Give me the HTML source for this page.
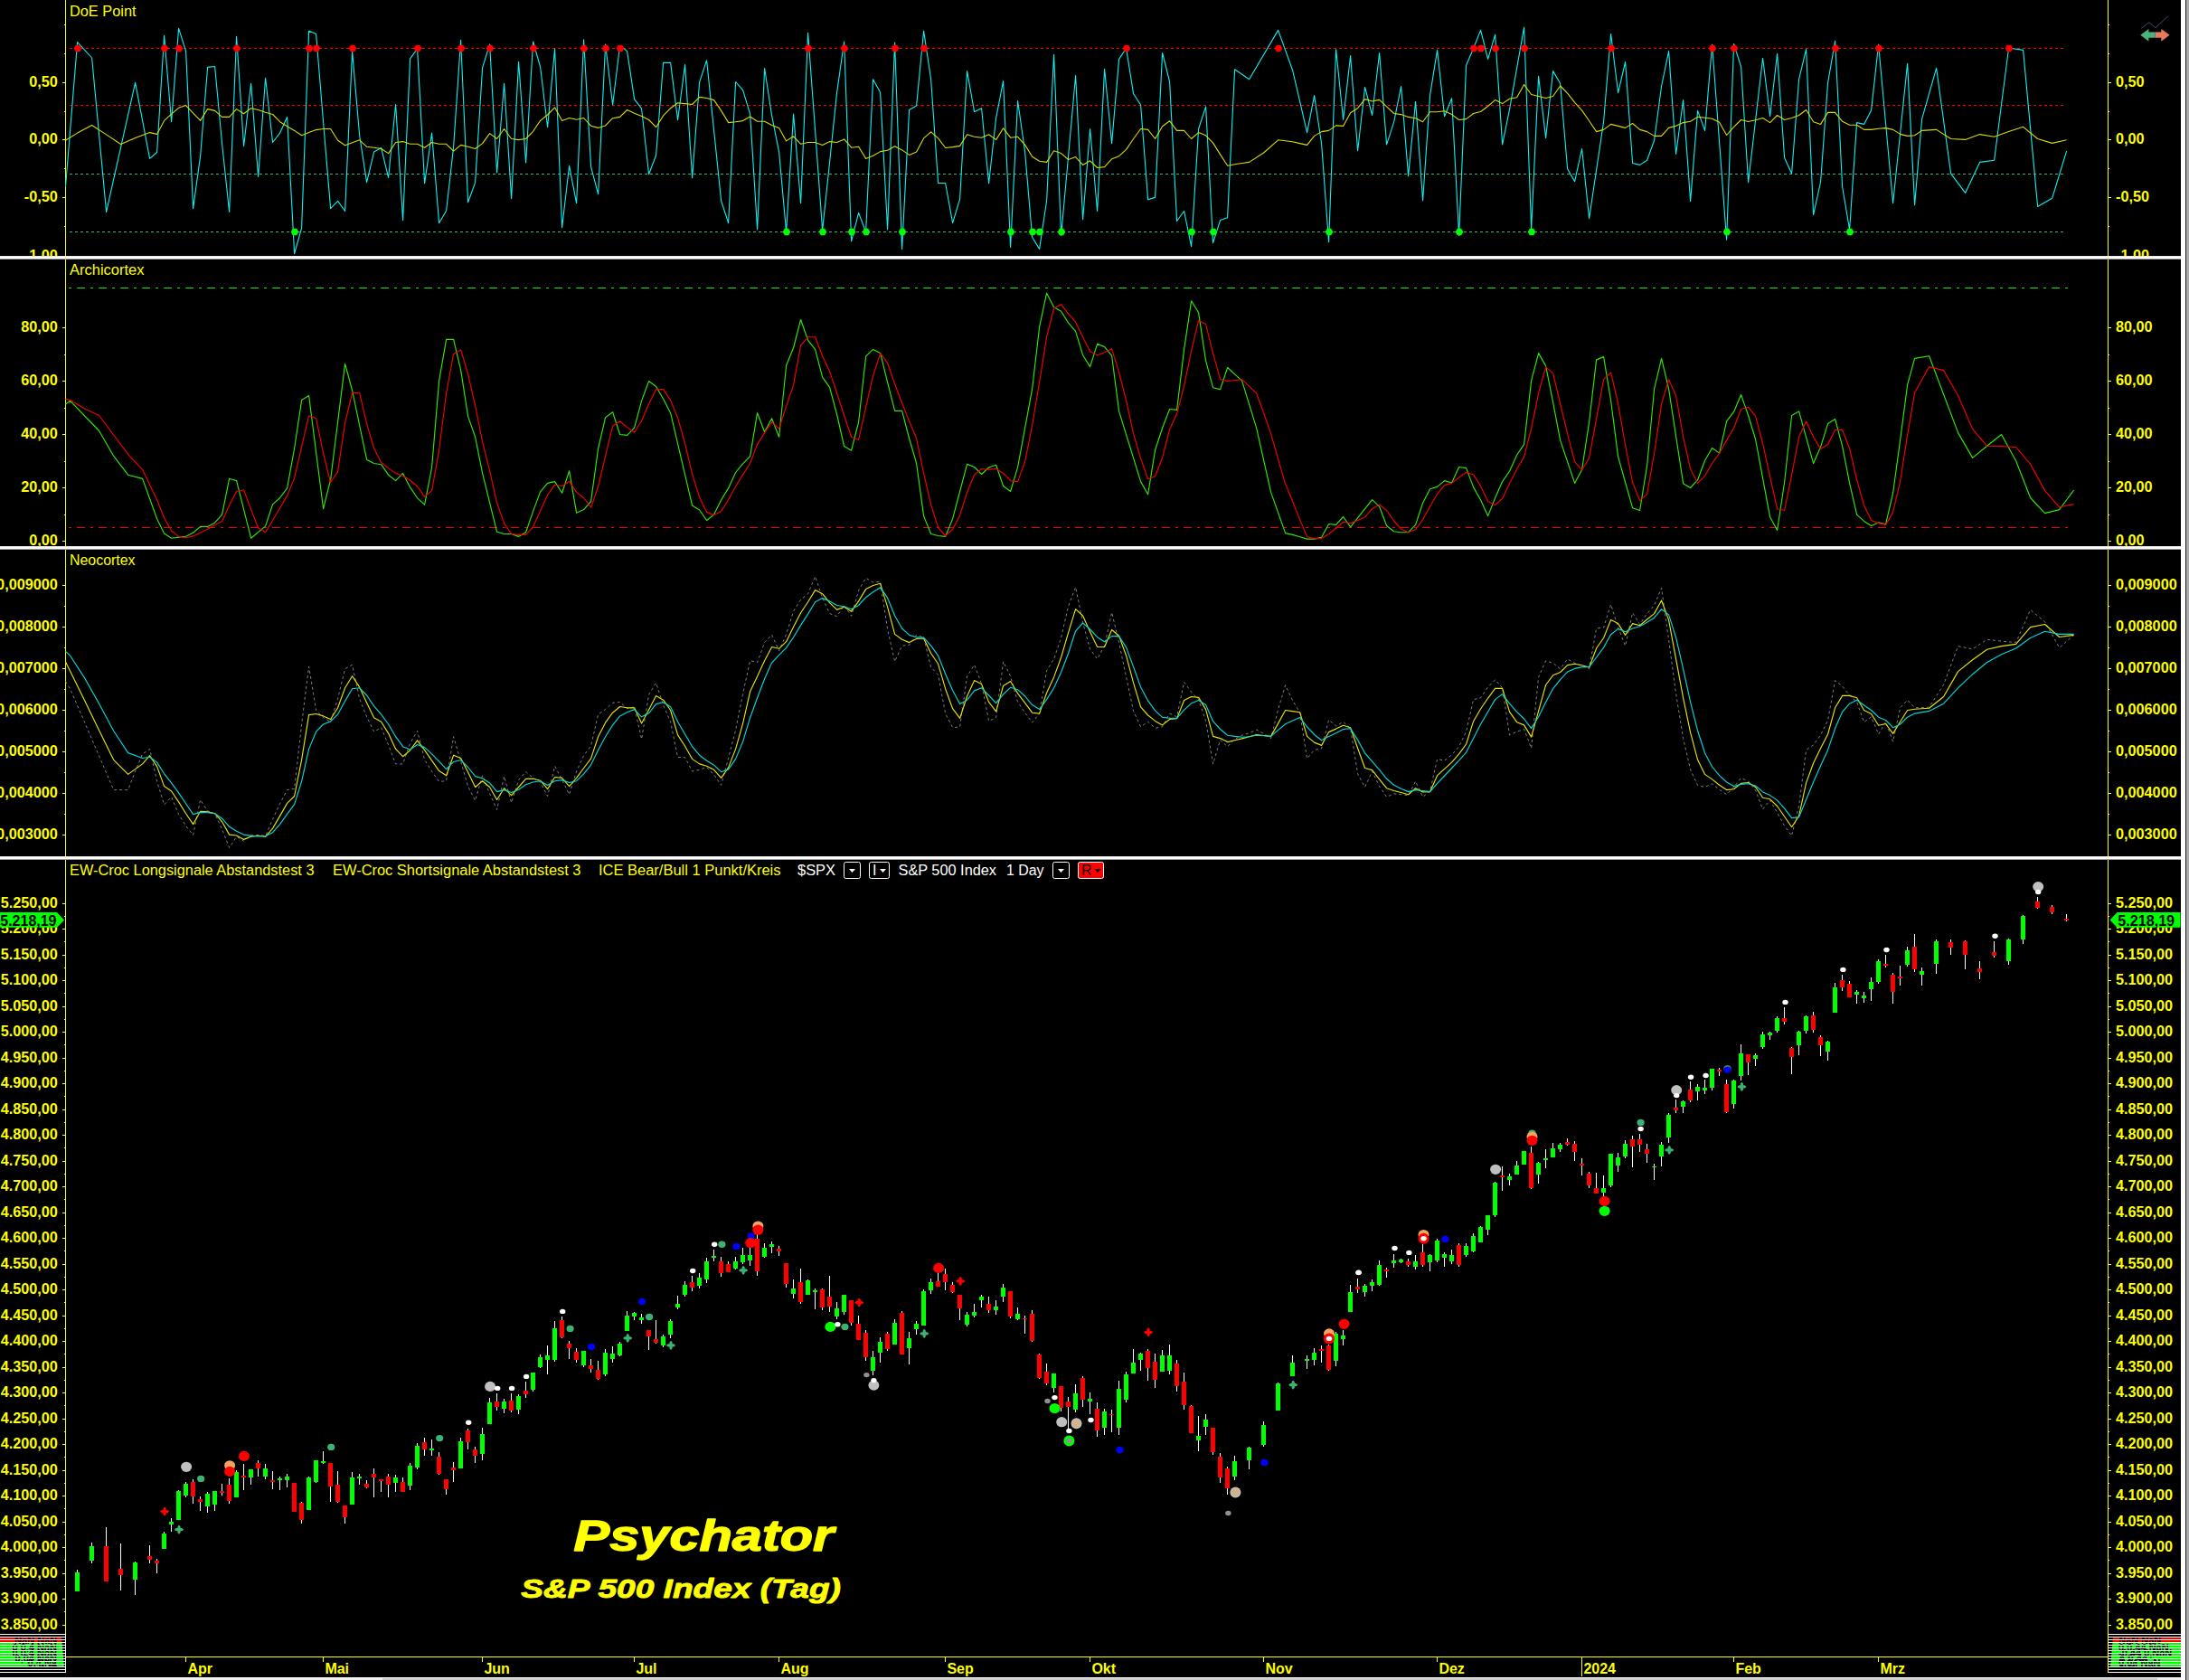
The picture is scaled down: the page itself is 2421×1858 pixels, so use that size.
<!DOCTYPE html><html><head><meta charset="utf-8"><title>Psychator S&amp;P 500 Index (Tag)</title><style>html,body{margin:0;padding:0;background:#000;overflow:hidden}body{width:2421px;height:1858px;position:relative}</style></head><body><svg width="2421" height="1858" viewBox="0 0 2421 1858" style="position:absolute;left:0;top:0">
<rect x="0" y="0" width="2421" height="1858" fill="#000"/>
<defs>
<clipPath id="c1"><rect x="0" y="0" width="2412" height="283"/></clipPath>
<clipPath id="c2"><rect x="0" y="287" width="2412" height="317"/></clipPath>
<clipPath id="c3"><rect x="0" y="608" width="2412" height="339"/></clipPath>
<clipPath id="c4"><rect x="0" y="951" width="2412" height="904"/></clipPath>
</defs>
<g clip-path="url(#c1)">
<g shape-rendering="crispEdges">
<rect x="72" y="0" width="1" height="283" fill="#ffff00"/><rect x="2331" y="0" width="1" height="283" fill="#ffff00"/>
<rect x="69" y="91" width="3" height="1" fill="#ffff00"/><rect x="2332" y="91" width="3" height="1" fill="#ffff00"/>
<rect x="69" y="154" width="3" height="1" fill="#ffff00"/><rect x="2332" y="154" width="3" height="1" fill="#ffff00"/>
<rect x="69" y="218" width="3" height="1" fill="#ffff00"/><rect x="2332" y="218" width="3" height="1" fill="#ffff00"/>
<rect x="69" y="283" width="3" height="1" fill="#ffff00"/><rect x="2332" y="283" width="3" height="1" fill="#ffff00"/>
<rect x="71" y="27" width="1" height="1" fill="#ffff00"/><rect x="2332" y="27" width="1" height="1" fill="#ffff00"/>
<rect x="71" y="59" width="1" height="1" fill="#ffff00"/><rect x="2332" y="59" width="1" height="1" fill="#ffff00"/>
<rect x="71" y="123" width="1" height="1" fill="#ffff00"/><rect x="2332" y="123" width="1" height="1" fill="#ffff00"/>
<rect x="71" y="186" width="1" height="1" fill="#ffff00"/><rect x="2332" y="186" width="1" height="1" fill="#ffff00"/>
<rect x="71" y="250" width="1" height="1" fill="#ffff00"/><rect x="2332" y="250" width="1" height="1" fill="#ffff00"/>
<line x1="77" y1="53.5" x2="2282" y2="53.5" stroke="#ff0000" stroke-width="1" stroke-dasharray="3 3"/>
<line x1="77" y1="116.5" x2="2282" y2="116.5" stroke="#ff0000" stroke-width="1" stroke-dasharray="3 3"/>
<line x1="77" y1="192.5" x2="2282" y2="192.5" stroke="#3cb371" stroke-width="1" stroke-dasharray="3 3"/>
<line x1="77" y1="256.5" x2="2282" y2="256.5" stroke="#3cb371" stroke-width="1" stroke-dasharray="3 3"/>
</g>
<text x="32.2" y="96.2" font-family="Liberation Sans, Arial, sans-serif" font-size="16" font-weight="bold" fill="#ffff00" textLength="31.6" lengthAdjust="spacingAndGlyphs">0,50</text>
<text x="2340" y="96.2" font-family="Liberation Sans, Arial, sans-serif" font-size="16" font-weight="bold" fill="#ffff00" textLength="31.6" lengthAdjust="spacingAndGlyphs">0,50</text>
<text x="32.2" y="159.2" font-family="Liberation Sans, Arial, sans-serif" font-size="16" font-weight="bold" fill="#ffff00" textLength="31.6" lengthAdjust="spacingAndGlyphs">0,00</text>
<text x="2340" y="159.2" font-family="Liberation Sans, Arial, sans-serif" font-size="16" font-weight="bold" fill="#ffff00" textLength="31.6" lengthAdjust="spacingAndGlyphs">0,00</text>
<text x="26.8" y="223.2" font-family="Liberation Sans, Arial, sans-serif" font-size="16" font-weight="bold" fill="#ffff00" textLength="37.0" lengthAdjust="spacingAndGlyphs">-0,50</text>
<text x="2340" y="223.2" font-family="Liberation Sans, Arial, sans-serif" font-size="16" font-weight="bold" fill="#ffff00" textLength="37.0" lengthAdjust="spacingAndGlyphs">-0,50</text>
<text x="26.8" y="288.2" font-family="Liberation Sans, Arial, sans-serif" font-size="16" font-weight="bold" fill="#ffff00" textLength="37.0" lengthAdjust="spacingAndGlyphs">-1,00</text>
<text x="2340" y="288.2" font-family="Liberation Sans, Arial, sans-serif" font-size="16" font-weight="bold" fill="#ffff00" textLength="37.0" lengthAdjust="spacingAndGlyphs">-1,00</text>
<text x="77" y="18.3" font-family="Liberation Sans, Arial, sans-serif" font-size="16" fill="#ffff00" textLength="73.5" lengthAdjust="spacingAndGlyphs">DoE Point</text>
<polyline points="72.5,206.5 85.6,46.6 101.6,64.0 117.6,234.4 149.6,91.4 165.6,175.4 173.6,168.5 181.6,39.3 189.6,134.7 197.6,31.4 205.6,56.6 213.6,230.6 221.6,172.7 229.6,74.4 237.6,73.5 245.6,159.0 253.6,234.4 261.6,40.2 269.6,161.7 277.6,92.3 285.6,195.5 293.6,86.2 301.6,157.5 309.6,147.1 317.6,129.4 325.6,280.5 333.6,252.2 341.6,34.2 349.6,37.5 357.6,135.2 365.6,230.6 373.6,222.4 381.6,233.5 389.6,56.6 397.6,149.5 405.6,201.6 413.6,168.1 421.6,163.5 429.6,196.4 437.6,115.5 445.6,243.6 453.6,64.9 461.6,53.9 469.6,202.8 477.6,147.1 485.6,246.7 493.6,233.0 501.6,162.6 509.6,44.2 517.6,223.8 525.6,201.9 533.6,74.9 541.6,49.0 549.6,191.0 557.6,92.3 565.6,219.8 573.6,68.2 581.6,180.0 589.6,46.0 597.6,74.0 605.6,140.7 613.6,53.9 621.6,251.8 629.6,183.3 637.6,224.8 645.6,43.9 653.6,184.6 661.6,214.7 669.6,49.0 677.6,116.0 685.6,50.3 693.6,56.6 701.6,109.6 709.6,120.2 717.6,192.8 725.6,171.8 733.6,69.4 741.6,69.4 749.6,132.8 757.6,71.6 765.6,196.8 773.6,90.8 781.6,66.7 789.6,144.4 797.6,222.0 805.6,246.7 813.6,90.5 821.6,99.6 829.6,126.1 837.6,253.6 845.6,75.5 853.6,127.9 861.6,168.1 869.6,256.6 877.6,126.1 885.6,224.8 893.6,36.2 901.6,144.4 909.6,254.9 917.6,179.1 925.6,102.3 933.6,46.0 941.6,266.8 949.6,235.4 957.6,256.6 965.6,87.7 973.6,102.3 981.6,253.6 989.6,47.1 997.6,275.6 1005.6,121.5 1013.6,116.9 1021.6,34.2 1029.6,87.7 1037.6,202.5 1045.6,202.5 1053.6,246.7 1061.6,220.2 1069.6,78.6 1077.6,123.7 1085.6,119.7 1093.6,202.8 1101.6,130.7 1109.6,89.5 1117.6,273.5 1125.6,111.5 1133.6,168.1 1141.6,262.2 1149.6,275.4 1157.6,222.0 1165.6,60.3 1173.6,260.4 1181.6,172.7 1189.6,83.5 1197.6,242.7 1205.6,142.5 1213.6,233.5 1221.6,76.4 1229.6,158.6 1237.6,65.4 1245.6,53.5 1253.6,103.8 1261.6,116.0 1269.6,220.7 1277.6,218.4 1285.6,58.5 1293.6,90.5 1301.6,244.5 1309.6,233.5 1317.6,272.6 1325.6,142.5 1333.6,117.9 1341.6,268.6 1349.6,243.6 1357.6,240.7 1365.6,76.7 1381.6,87.7 1413.6,33.4 1429.6,77.7 1445.6,146.6 1453.6,105.6 1461.6,159.0 1469.6,267.7 1477.6,54.5 1485.6,132.5 1493.6,61.6 1501.6,166.7 1509.6,96.5 1517.6,127.5 1525.6,58.5 1533.6,159.9 1541.6,135.2 1549.6,95.6 1557.6,194.6 1565.6,112.4 1573.6,221.7 1581.6,105.1 1589.6,55.4 1597.6,128.8 1605.6,108.7 1613.6,260.4 1621.6,72.2 1629.6,53.5 1637.6,33.4 1645.6,65.4 1653.6,38.4 1661.6,159.9 1669.6,120.6 1685.6,30.2 1693.6,253.1 1701.6,84.4 1709.6,152.6 1717.6,78.6 1725.6,92.3 1733.6,186.8 1741.6,200.6 1749.6,164.5 1757.6,241.6 1773.6,134.3 1781.6,37.5 1789.6,102.7 1797.6,68.5 1805.6,180.5 1813.6,182.4 1821.6,177.2 1829.6,155.3 1837.6,95.0 1845.6,56.6 1853.6,170.5 1861.6,110.6 1869.6,222.6 1877.6,122.4 1885.6,144.4 1893.6,49.3 1909.6,265.3 1917.6,48.4 1925.6,74.0 1933.6,201.6 1949.6,64.3 1957.6,128.8 1965.6,59.4 1973.6,174.5 1981.6,191.9 1989.6,87.7 1997.6,54.3 2005.6,237.6 2013.6,201.0 2021.6,91.4 2029.6,45.3 2037.6,206.5 2045.6,254.0 2053.6,135.6 2061.6,137.4 2069.6,122.1 2077.6,49.3 2093.6,224.8 2109.6,70.4 2117.6,226.6 2125.6,131.6 2141.6,75.3 2157.6,191.9 2173.6,213.4 2189.6,179.4 2205.6,177.2 2221.6,53.0 2237.6,55.4 2253.6,228.4 2269.6,219.3 2285.6,167.2" fill="none" stroke="#0cf0f0" stroke-width="1.1" stroke-linejoin="round" />
<polyline points="72.5,155.3 85.6,147.1 101.6,138.5 117.6,148.9 133.6,159.5 149.6,152.6 165.6,146.6 173.6,148.4 181.6,133.4 189.6,126.1 197.6,119.3 205.6,116.6 213.6,125.2 221.6,133.4 229.6,120.6 237.6,122.4 245.6,129.4 253.6,129.4 261.6,120.6 269.6,125.7 277.6,119.7 285.6,121.5 293.6,124.3 301.6,126.5 309.6,134.7 317.6,139.8 325.6,144.4 333.6,149.8 341.6,146.6 349.6,143.6 357.6,142.5 365.6,142.5 373.6,155.3 381.6,160.8 389.6,157.7 397.6,154.8 405.6,162.3 413.6,163.2 421.6,164.5 429.6,169.6 437.6,157.5 445.6,156.6 453.6,159.3 461.6,159.3 469.6,163.2 477.6,157.5 485.6,159.3 493.6,159.3 501.6,167.2 509.6,160.4 517.6,162.3 525.6,164.5 533.6,158.6 541.6,147.6 549.6,153.5 557.6,142.5 565.6,153.5 573.6,154.6 581.6,153.5 589.6,145.3 597.6,133.4 605.6,127.0 613.6,118.8 621.6,133.4 629.6,130.5 637.6,132.3 645.6,130.5 653.6,139.2 661.6,141.4 669.6,138.9 677.6,130.7 685.6,129.4 693.6,121.5 701.6,125.2 709.6,128.5 717.6,132.5 725.6,140.7 733.6,127.9 741.6,119.7 749.6,113.7 757.6,114.6 765.6,115.5 773.6,107.4 781.6,108.5 789.6,110.6 797.6,122.4 805.6,135.6 813.6,134.7 821.6,133.6 829.6,129.0 837.6,134.3 845.6,134.3 853.6,138.5 861.6,141.6 869.6,155.9 877.6,150.8 885.6,159.3 893.6,157.5 901.6,157.5 909.6,160.4 917.6,156.6 925.6,157.5 933.6,153.9 941.6,163.2 949.6,162.3 957.6,175.4 965.6,172.3 973.6,167.6 981.6,166.3 989.6,161.7 997.6,165.9 1005.6,171.4 1013.6,168.1 1021.6,152.9 1029.6,145.8 1037.6,152.9 1045.6,163.5 1053.6,162.6 1061.6,161.4 1069.6,148.7 1077.6,151.3 1085.6,152.2 1093.6,148.7 1101.6,154.6 1109.6,141.8 1117.6,152.2 1125.6,151.3 1133.6,160.1 1141.6,173.2 1149.6,178.3 1157.6,179.4 1165.6,166.7 1173.6,169.6 1181.6,176.5 1189.6,173.6 1197.6,182.4 1205.6,177.8 1213.6,185.5 1221.6,184.6 1229.6,175.8 1237.6,172.7 1245.6,165.4 1253.6,153.5 1261.6,142.5 1269.6,143.4 1277.6,153.5 1285.6,139.8 1293.6,133.8 1301.6,144.4 1309.6,144.4 1317.6,153.5 1325.6,146.6 1333.6,149.8 1341.6,158.1 1349.6,170.9 1357.6,183.3 1365.6,181.8 1373.6,180.5 1381.6,179.4 1397.6,169.0 1413.6,154.8 1421.6,155.7 1429.6,156.8 1437.6,158.6 1445.6,160.4 1453.6,150.4 1461.6,145.6 1469.6,144.4 1477.6,138.9 1485.6,139.4 1493.6,124.8 1501.6,119.7 1509.6,109.6 1517.6,112.0 1525.6,110.4 1533.6,117.9 1541.6,125.5 1549.6,126.6 1557.6,129.4 1565.6,130.7 1573.6,134.7 1581.6,123.7 1589.6,123.7 1597.6,122.8 1605.6,126.6 1613.6,132.5 1621.6,131.6 1629.6,125.5 1637.6,123.5 1645.6,117.5 1653.6,110.6 1661.6,114.6 1669.6,109.3 1677.6,107.8 1685.6,93.6 1693.6,104.5 1701.6,106.5 1709.6,108.5 1717.6,106.5 1725.6,95.0 1733.6,103.2 1741.6,113.3 1749.6,122.1 1757.6,133.8 1765.6,145.6 1773.6,143.4 1781.6,137.4 1789.6,139.4 1797.6,141.4 1805.6,136.5 1813.6,143.4 1821.6,145.6 1829.6,150.4 1837.6,150.4 1845.6,141.4 1853.6,139.2 1861.6,135.6 1869.6,134.3 1877.6,129.4 1885.6,130.3 1893.6,131.2 1901.6,135.2 1909.6,149.5 1917.6,140.3 1925.6,132.5 1933.6,134.5 1941.6,132.8 1949.6,130.5 1957.6,135.6 1965.6,127.5 1973.6,132.5 1981.6,130.5 1989.6,127.5 1997.6,121.5 2005.6,134.7 2013.6,137.4 2021.6,124.4 2029.6,124.4 2037.6,134.3 2045.6,138.3 2053.6,138.3 2061.6,143.4 2069.6,143.4 2077.6,142.2 2085.6,141.6 2093.6,143.4 2101.6,148.4 2109.6,150.4 2117.6,149.8 2125.6,144.4 2141.6,143.4 2157.6,153.5 2173.6,154.4 2189.6,148.6 2205.6,151.3 2221.6,145.6 2237.6,140.3 2253.6,153.5 2269.6,158.4 2285.6,154.8" fill="none" stroke="#d9d900" stroke-width="1.1" stroke-linejoin="round" />
<path transform="translate(86.0,53.5)" d="M-4.3,0 L-2.2,-3.7 L2.2,-3.7 L4.3,0 L2.2,3.7 L-2.2,3.7 Z" fill="#ff0000"/>
<path transform="translate(182.0,53.5)" d="M-4.3,0 L-2.2,-3.7 L2.2,-3.7 L4.3,0 L2.2,3.7 L-2.2,3.7 Z" fill="#ff0000"/>
<path transform="translate(198.0,53.5)" d="M-4.3,0 L-2.2,-3.7 L2.2,-3.7 L4.3,0 L2.2,3.7 L-2.2,3.7 Z" fill="#ff0000"/>
<path transform="translate(262.0,53.5)" d="M-4.3,0 L-2.2,-3.7 L2.2,-3.7 L4.3,0 L2.2,3.7 L-2.2,3.7 Z" fill="#ff0000"/>
<path transform="translate(342.0,53.5)" d="M-4.3,0 L-2.2,-3.7 L2.2,-3.7 L4.3,0 L2.2,3.7 L-2.2,3.7 Z" fill="#ff0000"/>
<path transform="translate(350.0,53.5)" d="M-4.3,0 L-2.2,-3.7 L2.2,-3.7 L4.3,0 L2.2,3.7 L-2.2,3.7 Z" fill="#ff0000"/>
<path transform="translate(390.0,53.5)" d="M-4.3,0 L-2.2,-3.7 L2.2,-3.7 L4.3,0 L2.2,3.7 L-2.2,3.7 Z" fill="#ff0000"/>
<path transform="translate(462.0,53.5)" d="M-4.3,0 L-2.2,-3.7 L2.2,-3.7 L4.3,0 L2.2,3.7 L-2.2,3.7 Z" fill="#ff0000"/>
<path transform="translate(510.0,53.5)" d="M-4.3,0 L-2.2,-3.7 L2.2,-3.7 L4.3,0 L2.2,3.7 L-2.2,3.7 Z" fill="#ff0000"/>
<path transform="translate(542.0,53.5)" d="M-4.3,0 L-2.2,-3.7 L2.2,-3.7 L4.3,0 L2.2,3.7 L-2.2,3.7 Z" fill="#ff0000"/>
<path transform="translate(590.0,53.5)" d="M-4.3,0 L-2.2,-3.7 L2.2,-3.7 L4.3,0 L2.2,3.7 L-2.2,3.7 Z" fill="#ff0000"/>
<path transform="translate(646.0,53.5)" d="M-4.3,0 L-2.2,-3.7 L2.2,-3.7 L4.3,0 L2.2,3.7 L-2.2,3.7 Z" fill="#ff0000"/>
<path transform="translate(670.0,53.5)" d="M-4.3,0 L-2.2,-3.7 L2.2,-3.7 L4.3,0 L2.2,3.7 L-2.2,3.7 Z" fill="#ff0000"/>
<path transform="translate(686.0,53.5)" d="M-4.3,0 L-2.2,-3.7 L2.2,-3.7 L4.3,0 L2.2,3.7 L-2.2,3.7 Z" fill="#ff0000"/>
<path transform="translate(894.0,53.5)" d="M-4.3,0 L-2.2,-3.7 L2.2,-3.7 L4.3,0 L2.2,3.7 L-2.2,3.7 Z" fill="#ff0000"/>
<path transform="translate(934.0,53.5)" d="M-4.3,0 L-2.2,-3.7 L2.2,-3.7 L4.3,0 L2.2,3.7 L-2.2,3.7 Z" fill="#ff0000"/>
<path transform="translate(990.0,53.5)" d="M-4.3,0 L-2.2,-3.7 L2.2,-3.7 L4.3,0 L2.2,3.7 L-2.2,3.7 Z" fill="#ff0000"/>
<path transform="translate(1022.0,53.5)" d="M-4.3,0 L-2.2,-3.7 L2.2,-3.7 L4.3,0 L2.2,3.7 L-2.2,3.7 Z" fill="#ff0000"/>
<path transform="translate(1246.0,53.5)" d="M-4.3,0 L-2.2,-3.7 L2.2,-3.7 L4.3,0 L2.2,3.7 L-2.2,3.7 Z" fill="#ff0000"/>
<path transform="translate(1414.0,53.5)" d="M-4.3,0 L-2.2,-3.7 L2.2,-3.7 L4.3,0 L2.2,3.7 L-2.2,3.7 Z" fill="#ff0000"/>
<path transform="translate(1630.0,53.5)" d="M-4.3,0 L-2.2,-3.7 L2.2,-3.7 L4.3,0 L2.2,3.7 L-2.2,3.7 Z" fill="#ff0000"/>
<path transform="translate(1638.0,53.5)" d="M-4.3,0 L-2.2,-3.7 L2.2,-3.7 L4.3,0 L2.2,3.7 L-2.2,3.7 Z" fill="#ff0000"/>
<path transform="translate(1654.0,53.5)" d="M-4.3,0 L-2.2,-3.7 L2.2,-3.7 L4.3,0 L2.2,3.7 L-2.2,3.7 Z" fill="#ff0000"/>
<path transform="translate(1686.0,53.5)" d="M-4.3,0 L-2.2,-3.7 L2.2,-3.7 L4.3,0 L2.2,3.7 L-2.2,3.7 Z" fill="#ff0000"/>
<path transform="translate(1782.0,53.5)" d="M-4.3,0 L-2.2,-3.7 L2.2,-3.7 L4.3,0 L2.2,3.7 L-2.2,3.7 Z" fill="#ff0000"/>
<path transform="translate(1894.0,53.5)" d="M-4.3,0 L-2.2,-3.7 L2.2,-3.7 L4.3,0 L2.2,3.7 L-2.2,3.7 Z" fill="#ff0000"/>
<path transform="translate(1918.0,53.5)" d="M-4.3,0 L-2.2,-3.7 L2.2,-3.7 L4.3,0 L2.2,3.7 L-2.2,3.7 Z" fill="#ff0000"/>
<path transform="translate(2030.0,53.5)" d="M-4.3,0 L-2.2,-3.7 L2.2,-3.7 L4.3,0 L2.2,3.7 L-2.2,3.7 Z" fill="#ff0000"/>
<path transform="translate(2078.0,53.5)" d="M-4.3,0 L-2.2,-3.7 L2.2,-3.7 L4.3,0 L2.2,3.7 L-2.2,3.7 Z" fill="#ff0000"/>
<path transform="translate(2222.0,53.5)" d="M-4.3,0 L-2.2,-3.7 L2.2,-3.7 L4.3,0 L2.2,3.7 L-2.2,3.7 Z" fill="#ff0000"/>
<path transform="translate(326.0,256.5)" d="M-4.3,0 L-2.2,-3.7 L2.2,-3.7 L4.3,0 L2.2,3.7 L-2.2,3.7 Z" fill="#00ff00"/>
<path transform="translate(870.0,256.5)" d="M-4.3,0 L-2.2,-3.7 L2.2,-3.7 L4.3,0 L2.2,3.7 L-2.2,3.7 Z" fill="#00ff00"/>
<path transform="translate(910.0,256.5)" d="M-4.3,0 L-2.2,-3.7 L2.2,-3.7 L4.3,0 L2.2,3.7 L-2.2,3.7 Z" fill="#00ff00"/>
<path transform="translate(942.0,256.5)" d="M-4.3,0 L-2.2,-3.7 L2.2,-3.7 L4.3,0 L2.2,3.7 L-2.2,3.7 Z" fill="#00ff00"/>
<path transform="translate(958.0,256.5)" d="M-4.3,0 L-2.2,-3.7 L2.2,-3.7 L4.3,0 L2.2,3.7 L-2.2,3.7 Z" fill="#00ff00"/>
<path transform="translate(998.0,256.5)" d="M-4.3,0 L-2.2,-3.7 L2.2,-3.7 L4.3,0 L2.2,3.7 L-2.2,3.7 Z" fill="#00ff00"/>
<path transform="translate(1118.0,256.5)" d="M-4.3,0 L-2.2,-3.7 L2.2,-3.7 L4.3,0 L2.2,3.7 L-2.2,3.7 Z" fill="#00ff00"/>
<path transform="translate(1142.0,256.5)" d="M-4.3,0 L-2.2,-3.7 L2.2,-3.7 L4.3,0 L2.2,3.7 L-2.2,3.7 Z" fill="#00ff00"/>
<path transform="translate(1150.0,256.5)" d="M-4.3,0 L-2.2,-3.7 L2.2,-3.7 L4.3,0 L2.2,3.7 L-2.2,3.7 Z" fill="#00ff00"/>
<path transform="translate(1174.0,256.5)" d="M-4.3,0 L-2.2,-3.7 L2.2,-3.7 L4.3,0 L2.2,3.7 L-2.2,3.7 Z" fill="#00ff00"/>
<path transform="translate(1318.0,256.5)" d="M-4.3,0 L-2.2,-3.7 L2.2,-3.7 L4.3,0 L2.2,3.7 L-2.2,3.7 Z" fill="#00ff00"/>
<path transform="translate(1342.0,256.5)" d="M-4.3,0 L-2.2,-3.7 L2.2,-3.7 L4.3,0 L2.2,3.7 L-2.2,3.7 Z" fill="#00ff00"/>
<path transform="translate(1470.0,256.5)" d="M-4.3,0 L-2.2,-3.7 L2.2,-3.7 L4.3,0 L2.2,3.7 L-2.2,3.7 Z" fill="#00ff00"/>
<path transform="translate(1614.0,256.5)" d="M-4.3,0 L-2.2,-3.7 L2.2,-3.7 L4.3,0 L2.2,3.7 L-2.2,3.7 Z" fill="#00ff00"/>
<path transform="translate(1694.0,256.5)" d="M-4.3,0 L-2.2,-3.7 L2.2,-3.7 L4.3,0 L2.2,3.7 L-2.2,3.7 Z" fill="#00ff00"/>
<path transform="translate(1910.0,256.5)" d="M-4.3,0 L-2.2,-3.7 L2.2,-3.7 L4.3,0 L2.2,3.7 L-2.2,3.7 Z" fill="#00ff00"/>
<path transform="translate(2046.0,256.5)" d="M-4.3,0 L-2.2,-3.7 L2.2,-3.7 L4.3,0 L2.2,3.7 L-2.2,3.7 Z" fill="#00ff00"/>
<polyline points="2368.2,31.4 2377,24.7 2383.7,30.7 2398.3,17.7" fill="none" stroke="#3c4a78" stroke-width="1"/>
<polygon points="2367.3,38.7 2376.4,32 2376.4,35.6 2383.7,35.6 2383.7,41.7 2376.4,41.7 2376.4,45.7" fill="#4cb27c"/>
<polygon points="2399.6,38.7 2390.3,32 2390.3,35.6 2383.7,35.6 2383.7,41.7 2390.3,41.7 2390.3,45.7" fill="#e87a5c"/>
</g>
<g clip-path="url(#c2)">
<g shape-rendering="crispEdges">
<rect x="72" y="287" width="1" height="317" fill="#ffff00"/><rect x="2331" y="287" width="1" height="317" fill="#ffff00"/>
<rect x="69" y="362" width="3" height="1" fill="#ffff00"/><rect x="2332" y="362" width="3" height="1" fill="#ffff00"/>
<rect x="69" y="421" width="3" height="1" fill="#ffff00"/><rect x="2332" y="421" width="3" height="1" fill="#ffff00"/>
<rect x="69" y="480" width="3" height="1" fill="#ffff00"/><rect x="2332" y="480" width="3" height="1" fill="#ffff00"/>
<rect x="69" y="539" width="3" height="1" fill="#ffff00"/><rect x="2332" y="539" width="3" height="1" fill="#ffff00"/>
<rect x="69" y="598" width="3" height="1" fill="#ffff00"/><rect x="2332" y="598" width="3" height="1" fill="#ffff00"/>
<rect x="71" y="392" width="1" height="1" fill="#ffff00"/><rect x="2332" y="392" width="1" height="1" fill="#ffff00"/>
<rect x="71" y="451" width="1" height="1" fill="#ffff00"/><rect x="2332" y="451" width="1" height="1" fill="#ffff00"/>
<rect x="71" y="510" width="1" height="1" fill="#ffff00"/><rect x="2332" y="510" width="1" height="1" fill="#ffff00"/>
<rect x="71" y="569" width="1" height="1" fill="#ffff00"/><rect x="2332" y="569" width="1" height="1" fill="#ffff00"/>
<line x1="76" y1="318.5" x2="2287" y2="318.5" stroke="#00e800" stroke-width="1" stroke-dasharray="3 6 9 6"/>
<line x1="76" y1="583.5" x2="2287" y2="583.5" stroke="#ff0000" stroke-width="1" stroke-dasharray="3 6 9 6"/>
</g>
<text x="23.2" y="367.2" font-family="Liberation Sans, Arial, sans-serif" font-size="16" font-weight="bold" fill="#ffff00" textLength="40.6" lengthAdjust="spacingAndGlyphs">80,00</text>
<text x="2340" y="367.2" font-family="Liberation Sans, Arial, sans-serif" font-size="16" font-weight="bold" fill="#ffff00" textLength="40.6" lengthAdjust="spacingAndGlyphs">80,00</text>
<text x="23.2" y="426.2" font-family="Liberation Sans, Arial, sans-serif" font-size="16" font-weight="bold" fill="#ffff00" textLength="40.6" lengthAdjust="spacingAndGlyphs">60,00</text>
<text x="2340" y="426.2" font-family="Liberation Sans, Arial, sans-serif" font-size="16" font-weight="bold" fill="#ffff00" textLength="40.6" lengthAdjust="spacingAndGlyphs">60,00</text>
<text x="23.2" y="485.2" font-family="Liberation Sans, Arial, sans-serif" font-size="16" font-weight="bold" fill="#ffff00" textLength="40.6" lengthAdjust="spacingAndGlyphs">40,00</text>
<text x="2340" y="485.2" font-family="Liberation Sans, Arial, sans-serif" font-size="16" font-weight="bold" fill="#ffff00" textLength="40.6" lengthAdjust="spacingAndGlyphs">40,00</text>
<text x="23.2" y="544.2" font-family="Liberation Sans, Arial, sans-serif" font-size="16" font-weight="bold" fill="#ffff00" textLength="40.6" lengthAdjust="spacingAndGlyphs">20,00</text>
<text x="2340" y="544.2" font-family="Liberation Sans, Arial, sans-serif" font-size="16" font-weight="bold" fill="#ffff00" textLength="40.6" lengthAdjust="spacingAndGlyphs">20,00</text>
<text x="32.2" y="603.2" font-family="Liberation Sans, Arial, sans-serif" font-size="16" font-weight="bold" fill="#ffff00" textLength="31.6" lengthAdjust="spacingAndGlyphs">0,00</text>
<text x="2340" y="603.2" font-family="Liberation Sans, Arial, sans-serif" font-size="16" font-weight="bold" fill="#ffff00" textLength="31.6" lengthAdjust="spacingAndGlyphs">0,00</text>
<text x="77" y="304.3" font-family="Liberation Sans, Arial, sans-serif" font-size="16" fill="#ffff00" textLength="82.5" lengthAdjust="spacingAndGlyphs">Archicortex</text>
<polyline points="72.5,447.0 77.6,443.4 109.6,476.5 125.6,504.2 141.6,525.2 157.6,529.4 173.6,573.7 181.6,590.1 189.6,595.2 197.6,594.1 205.6,593.2 213.6,589.2 221.6,582.4 229.6,582.4 237.6,578.2 245.6,569.1 253.6,529.4 261.6,531.6 277.6,595.2 293.6,581.9 301.6,557.8 309.6,550.5 317.6,539.9 325.6,496.0 333.6,442.6 341.6,437.5 357.6,562.7 365.6,530.7 381.6,402.4 389.6,432.0 405.6,508.4 413.6,512.5 421.6,513.7 429.6,525.2 437.6,531.6 445.6,523.4 453.6,538.9 461.6,550.8 469.6,558.1 477.6,517.0 485.6,421.1 493.6,375.4 501.6,375.4 509.6,409.2 517.6,460.4 525.6,483.2 533.6,523.4 549.6,588.3 557.6,590.5 565.6,590.5 573.6,593.4 581.6,588.7 589.6,565.4 597.6,543.9 605.6,534.4 613.6,532.6 621.6,545.3 629.6,520.7 637.6,567.3 645.6,563.6 653.6,554.5 661.6,496.0 669.6,461.7 677.6,455.8 685.6,480.5 693.6,481.4 701.6,473.2 709.6,443.4 717.6,421.5 725.6,427.5 733.6,441.2 741.6,456.7 765.6,559.0 773.6,564.0 781.6,575.5 789.6,569.1 797.6,553.0 805.6,539.9 813.6,522.5 821.6,512.8 829.6,504.6 837.6,456.7 845.6,477.7 853.6,462.7 861.6,483.2 869.6,404.3 877.6,384.5 885.6,353.5 893.6,376.3 901.6,386.4 909.6,417.1 917.6,428.4 925.6,458.5 933.6,493.6 941.6,498.2 949.6,466.8 957.6,394.2 965.6,386.4 973.6,390.4 981.6,422.9 989.6,454.3 997.6,454.3 1005.6,485.0 1013.6,512.5 1021.6,570.6 1029.6,590.5 1037.6,592.5 1045.6,593.4 1053.6,573.7 1061.6,543.5 1069.6,513.4 1077.6,516.5 1085.6,524.5 1093.6,517.0 1101.6,514.3 1109.6,537.5 1117.6,543.5 1125.6,516.7 1141.6,430.2 1149.6,361.7 1157.6,324.2 1165.6,339.8 1173.6,344.3 1181.6,357.1 1189.6,366.3 1197.6,392.8 1205.6,405.6 1213.6,380.3 1221.6,383.6 1229.6,393.3 1237.6,454.9 1261.6,532.6 1269.6,546.8 1277.6,497.8 1285.6,473.2 1293.6,452.5 1301.6,453.4 1309.6,386.4 1317.6,332.8 1325.6,345.8 1333.6,399.2 1341.6,428.8 1349.6,430.6 1357.6,406.5 1373.6,421.1 1389.6,473.2 1405.6,544.4 1421.6,589.6 1429.6,591.4 1437.6,593.8 1445.6,596.1 1453.6,596.1 1461.6,594.3 1469.6,579.5 1477.6,580.4 1485.6,571.5 1493.6,582.8 1517.6,552.7 1525.6,560.3 1533.6,581.5 1541.6,587.7 1549.6,588.7 1557.6,588.7 1565.6,580.4 1573.6,556.3 1581.6,540.8 1589.6,538.4 1597.6,531.6 1605.6,534.0 1613.6,516.5 1621.6,517.6 1629.6,538.9 1637.6,553.0 1645.6,570.6 1653.6,550.8 1661.6,532.6 1669.6,521.0 1677.6,503.3 1685.6,491.4 1693.6,421.1 1701.6,390.6 1709.6,404.6 1717.6,444.8 1725.6,486.9 1733.6,510.6 1741.6,534.4 1749.6,519.4 1757.6,466.8 1765.6,397.9 1773.6,394.6 1781.6,443.0 1789.6,505.1 1797.6,533.5 1805.6,561.8 1813.6,564.5 1821.6,515.2 1829.6,430.2 1837.6,396.4 1845.6,430.2 1861.6,534.7 1869.6,539.5 1877.6,530.7 1885.6,509.2 1893.6,495.5 1901.6,501.1 1909.6,465.9 1917.6,455.4 1925.6,436.6 1933.6,459.5 1941.6,486.0 1957.6,571.8 1965.6,586.5 1973.6,533.5 1981.6,459.5 1989.6,454.9 2005.6,512.5 2013.6,494.2 2021.6,468.6 2029.6,463.5 2037.6,493.3 2045.6,534.4 2053.6,569.1 2061.6,576.4 2069.6,581.5 2077.6,577.9 2085.6,579.7 2093.6,545.3 2101.6,486.9 2109.6,425.7 2117.6,396.4 2133.6,393.7 2165.6,478.6 2181.6,506.4 2197.6,493.3 2213.6,480.5 2229.6,509.7 2245.6,550.5 2261.6,567.6 2277.6,563.6 2293.6,542.1" fill="none" stroke="#30e800" stroke-width="1.15" stroke-linejoin="round" />
<polyline points="72.5,441.2 77.6,442.6 93.6,452.1 109.6,459.5 141.6,502.4 157.6,519.4 173.6,552.7 181.6,572.8 189.6,587.0 197.6,593.4 205.6,594.7 213.6,592.9 221.6,589.2 229.6,585.2 237.6,580.6 245.6,576.4 253.6,559.0 261.6,543.5 269.6,541.7 277.6,563.6 285.6,583.7 293.6,588.7 301.6,575.5 309.6,561.8 317.6,548.1 325.6,528.9 333.6,494.2 341.6,459.8 349.6,462.7 357.6,501.5 365.6,533.5 373.6,521.6 381.6,467.7 389.6,434.4 397.6,434.4 405.6,468.6 413.6,496.0 421.6,511.5 429.6,517.9 437.6,523.4 445.6,526.2 453.6,531.3 461.6,538.0 469.6,549.4 477.6,542.6 485.6,497.8 493.6,434.8 501.6,391.5 509.6,386.9 517.6,413.8 525.6,448.5 533.6,488.7 541.6,520.7 549.6,556.3 557.6,578.6 565.6,590.5 573.6,591.4 581.6,591.4 589.6,582.8 597.6,565.1 605.6,547.5 613.6,536.2 621.6,537.5 629.6,532.6 637.6,544.4 645.6,550.5 653.6,561.2 661.6,538.0 669.6,504.2 677.6,471.3 685.6,465.7 693.6,472.6 701.6,478.3 709.6,465.3 717.6,446.7 725.6,430.6 733.6,430.6 741.6,442.6 749.6,462.2 757.6,490.5 765.6,524.3 773.6,549.9 781.6,566.4 789.6,569.6 797.6,565.4 805.6,552.7 813.6,538.0 821.6,524.9 829.6,512.5 837.6,491.4 845.6,478.6 853.6,466.8 861.6,474.1 869.6,449.4 877.6,425.7 885.6,381.8 893.6,372.7 901.6,372.7 909.6,393.7 917.6,411.0 925.6,434.8 933.6,459.5 941.6,483.2 949.6,486.5 957.6,450.3 965.6,415.6 973.6,390.9 981.6,401.3 989.6,424.7 997.6,445.8 1005.6,465.9 1013.6,485.0 1021.6,523.4 1029.6,558.1 1037.6,583.7 1045.6,592.5 1053.6,585.5 1061.6,570.0 1069.6,544.4 1077.6,525.2 1085.6,518.5 1093.6,519.4 1101.6,518.3 1109.6,523.4 1117.6,531.6 1125.6,532.6 1133.6,510.6 1141.6,470.4 1149.6,422.9 1157.6,372.7 1165.6,341.0 1173.6,336.7 1181.6,347.1 1189.6,356.2 1197.6,372.7 1205.6,388.7 1213.6,392.8 1221.6,389.7 1229.6,385.8 1237.6,411.9 1245.6,443.0 1253.6,479.6 1261.6,507.0 1269.6,529.8 1277.6,526.7 1285.6,506.1 1293.6,475.0 1301.6,457.6 1309.6,426.6 1317.6,388.2 1325.6,354.4 1333.6,358.6 1341.6,390.9 1349.6,419.6 1357.6,421.5 1365.6,420.5 1373.6,419.6 1389.6,434.8 1397.6,456.7 1405.6,479.6 1413.6,507.9 1421.6,535.3 1429.6,554.5 1437.6,574.6 1445.6,593.8 1453.6,595.6 1461.6,595.6 1469.6,590.5 1477.6,584.3 1485.6,577.3 1493.6,578.6 1501.6,575.5 1509.6,571.8 1517.6,562.7 1525.6,558.1 1533.6,564.5 1541.6,576.0 1549.6,585.2 1557.6,588.7 1565.6,585.5 1573.6,574.6 1581.6,560.0 1589.6,546.3 1597.6,536.6 1605.6,534.4 1613.6,528.0 1621.6,522.5 1629.6,524.9 1637.6,537.7 1645.6,554.5 1653.6,558.5 1661.6,551.4 1669.6,534.4 1677.6,518.8 1685.6,505.1 1693.6,474.1 1701.6,434.8 1709.6,405.9 1717.6,412.9 1725.6,446.7 1733.6,479.6 1741.6,510.6 1749.6,519.8 1757.6,506.6 1765.6,463.1 1773.6,419.6 1781.6,411.9 1789.6,446.7 1797.6,492.4 1805.6,533.5 1813.6,553.6 1821.6,546.3 1829.6,501.5 1837.6,446.7 1845.6,419.8 1853.6,437.5 1861.6,483.2 1869.6,518.8 1877.6,534.4 1885.6,526.2 1893.6,512.5 1901.6,501.5 1909.6,486.9 1917.6,473.2 1925.6,452.5 1933.6,450.3 1941.6,460.4 1949.6,490.5 1957.6,527.1 1965.6,562.7 1973.6,564.5 1981.6,525.2 1989.6,483.2 1997.6,465.9 2005.6,483.2 2013.6,496.6 2021.6,491.4 2029.6,475.5 2037.6,475.5 2045.6,496.0 2053.6,530.7 2061.6,559.0 2069.6,575.5 2077.6,578.6 2085.6,580.4 2093.6,566.4 2101.6,532.6 2109.6,481.4 2117.6,434.2 2133.6,405.6 2149.6,409.6 2165.6,437.5 2181.6,474.4 2197.6,493.3 2213.6,493.6 2229.6,494.5 2245.6,513.4 2261.6,542.6 2277.6,560.9 2293.6,557.6" fill="none" stroke="#f40000" stroke-width="1.15" stroke-linejoin="round" />
</g>
<g clip-path="url(#c3)">
<g shape-rendering="crispEdges">
<rect x="72" y="608" width="1" height="339" fill="#ffff00"/><rect x="2331" y="608" width="1" height="339" fill="#ffff00"/>
<rect x="69" y="647" width="3" height="1" fill="#ffff00"/><rect x="2332" y="647" width="3" height="1" fill="#ffff00"/>
<rect x="69" y="693" width="3" height="1" fill="#ffff00"/><rect x="2332" y="693" width="3" height="1" fill="#ffff00"/>
<rect x="69" y="739" width="3" height="1" fill="#ffff00"/><rect x="2332" y="739" width="3" height="1" fill="#ffff00"/>
<rect x="69" y="785" width="3" height="1" fill="#ffff00"/><rect x="2332" y="785" width="3" height="1" fill="#ffff00"/>
<rect x="69" y="831" width="3" height="1" fill="#ffff00"/><rect x="2332" y="831" width="3" height="1" fill="#ffff00"/>
<rect x="69" y="877" width="3" height="1" fill="#ffff00"/><rect x="2332" y="877" width="3" height="1" fill="#ffff00"/>
<rect x="69" y="923" width="3" height="1" fill="#ffff00"/><rect x="2332" y="923" width="3" height="1" fill="#ffff00"/>
<rect x="71" y="670" width="1" height="1" fill="#ffff00"/><rect x="2332" y="670" width="1" height="1" fill="#ffff00"/>
<rect x="71" y="716" width="1" height="1" fill="#ffff00"/><rect x="2332" y="716" width="1" height="1" fill="#ffff00"/>
<rect x="71" y="762" width="1" height="1" fill="#ffff00"/><rect x="2332" y="762" width="1" height="1" fill="#ffff00"/>
<rect x="71" y="808" width="1" height="1" fill="#ffff00"/><rect x="2332" y="808" width="1" height="1" fill="#ffff00"/>
<rect x="71" y="854" width="1" height="1" fill="#ffff00"/><rect x="2332" y="854" width="1" height="1" fill="#ffff00"/>
<rect x="71" y="900" width="1" height="1" fill="#ffff00"/><rect x="2332" y="900" width="1" height="1" fill="#ffff00"/>
</g>
<text x="-3.9" y="652.2" font-family="Liberation Sans, Arial, sans-serif" font-size="16" font-weight="bold" fill="#ffff00" textLength="67.7" lengthAdjust="spacingAndGlyphs">0,009000</text>
<text x="2340" y="652.2" font-family="Liberation Sans, Arial, sans-serif" font-size="16" font-weight="bold" fill="#ffff00" textLength="67.7" lengthAdjust="spacingAndGlyphs">0,009000</text>
<text x="-3.9" y="698.2" font-family="Liberation Sans, Arial, sans-serif" font-size="16" font-weight="bold" fill="#ffff00" textLength="67.7" lengthAdjust="spacingAndGlyphs">0,008000</text>
<text x="2340" y="698.2" font-family="Liberation Sans, Arial, sans-serif" font-size="16" font-weight="bold" fill="#ffff00" textLength="67.7" lengthAdjust="spacingAndGlyphs">0,008000</text>
<text x="-3.9" y="744.2" font-family="Liberation Sans, Arial, sans-serif" font-size="16" font-weight="bold" fill="#ffff00" textLength="67.7" lengthAdjust="spacingAndGlyphs">0,007000</text>
<text x="2340" y="744.2" font-family="Liberation Sans, Arial, sans-serif" font-size="16" font-weight="bold" fill="#ffff00" textLength="67.7" lengthAdjust="spacingAndGlyphs">0,007000</text>
<text x="-3.9" y="790.2" font-family="Liberation Sans, Arial, sans-serif" font-size="16" font-weight="bold" fill="#ffff00" textLength="67.7" lengthAdjust="spacingAndGlyphs">0,006000</text>
<text x="2340" y="790.2" font-family="Liberation Sans, Arial, sans-serif" font-size="16" font-weight="bold" fill="#ffff00" textLength="67.7" lengthAdjust="spacingAndGlyphs">0,006000</text>
<text x="-3.9" y="836.2" font-family="Liberation Sans, Arial, sans-serif" font-size="16" font-weight="bold" fill="#ffff00" textLength="67.7" lengthAdjust="spacingAndGlyphs">0,005000</text>
<text x="2340" y="836.2" font-family="Liberation Sans, Arial, sans-serif" font-size="16" font-weight="bold" fill="#ffff00" textLength="67.7" lengthAdjust="spacingAndGlyphs">0,005000</text>
<text x="-3.9" y="882.2" font-family="Liberation Sans, Arial, sans-serif" font-size="16" font-weight="bold" fill="#ffff00" textLength="67.7" lengthAdjust="spacingAndGlyphs">0,004000</text>
<text x="2340" y="882.2" font-family="Liberation Sans, Arial, sans-serif" font-size="16" font-weight="bold" fill="#ffff00" textLength="67.7" lengthAdjust="spacingAndGlyphs">0,004000</text>
<text x="-3.9" y="928.2" font-family="Liberation Sans, Arial, sans-serif" font-size="16" font-weight="bold" fill="#ffff00" textLength="67.7" lengthAdjust="spacingAndGlyphs">0,003000</text>
<text x="2340" y="928.2" font-family="Liberation Sans, Arial, sans-serif" font-size="16" font-weight="bold" fill="#ffff00" textLength="67.7" lengthAdjust="spacingAndGlyphs">0,003000</text>
<text x="77" y="624.5" font-family="Liberation Sans, Arial, sans-serif" font-size="16" fill="#ffff00" textLength="72.5" lengthAdjust="spacingAndGlyphs">Neocortex</text>
<polyline points="72.5,753.5 77.6,761.9 93.6,798.8 109.6,836.1 125.6,873.6 141.6,873.6 149.6,853.1 157.6,833.9 165.6,828.4 173.6,864.1 181.6,890.0 189.6,881.4 197.6,900.6 205.6,913.4 213.6,923.5 221.6,884.5 229.6,897.0 237.6,899.7 245.6,917.1 253.6,937.5 261.6,925.3 269.6,930.2 277.6,923.8 285.6,923.5 293.6,924.4 301.6,906.1 309.6,888.7 317.6,873.6 325.6,872.3 333.6,801.0 341.6,737.1 349.6,785.5 357.6,793.7 365.6,798.3 373.6,772.7 381.6,739.8 389.6,735.2 397.6,772.7 405.6,792.8 413.6,809.2 421.6,804.7 429.6,823.9 437.6,844.9 445.6,844.9 453.6,822.0 461.6,808.3 469.6,840.3 477.6,853.1 485.6,864.4 493.6,863.7 501.6,814.7 509.6,842.1 517.6,869.6 525.6,885.4 533.6,857.7 541.6,877.8 549.6,895.5 557.6,858.6 565.6,887.8 573.6,862.6 581.6,853.5 589.6,860.4 597.6,865.0 605.6,880.5 613.6,847.3 621.6,862.2 629.6,878.7 637.6,853.1 645.6,835.7 653.6,824.8 661.6,790.1 669.6,784.6 677.6,777.3 685.6,776.4 693.6,783.7 701.6,781.8 709.6,817.5 717.6,768.1 725.6,755.3 733.6,780.0 741.6,798.3 749.6,837.6 757.6,837.6 765.6,853.1 773.6,851.3 781.6,848.5 789.6,856.8 797.6,868.3 805.6,838.5 813.6,807.4 821.6,767.2 829.6,730.7 837.6,732.5 845.6,710.6 853.6,702.0 861.6,719.7 869.6,701.4 877.6,675.9 885.6,663.1 893.6,656.7 901.6,637.5 909.6,661.2 917.6,678.6 925.6,681.7 933.6,669.5 941.6,681.3 949.6,653.0 957.6,639.3 965.6,643.9 973.6,643.3 981.6,696.0 989.6,731.6 997.6,714.2 1005.6,713.3 1013.6,702.4 1021.6,705.1 1029.6,738.0 1037.6,746.2 1045.6,789.1 1053.6,804.7 1061.6,803.8 1069.6,748.0 1077.6,735.2 1085.6,756.3 1093.6,797.4 1101.6,793.7 1109.6,731.6 1117.6,748.0 1125.6,776.4 1133.6,788.2 1141.6,799.2 1149.6,789.1 1157.6,741.6 1165.6,728.8 1173.6,705.1 1181.6,670.4 1189.6,649.4 1197.6,688.6 1205.6,717.9 1213.6,728.8 1221.6,714.2 1229.6,677.3 1237.6,710.6 1245.6,748.9 1253.6,786.4 1261.6,803.8 1269.6,798.3 1277.6,805.2 1285.6,803.8 1293.6,789.1 1301.6,792.8 1309.6,754.4 1317.6,765.4 1325.6,773.6 1333.6,797.4 1341.6,844.9 1349.6,818.4 1357.6,825.7 1365.6,817.5 1373.6,813.3 1381.6,810.7 1389.6,807.1 1397.6,811.4 1405.6,816.6 1413.6,784.6 1421.6,757.7 1429.6,774.5 1437.6,788.2 1445.6,838.9 1453.6,829.4 1461.6,827.9 1469.6,796.1 1477.6,802.9 1485.6,798.3 1493.6,805.6 1501.6,855.8 1509.6,870.5 1517.6,853.1 1525.6,869.6 1533.6,881.4 1541.6,877.8 1549.6,878.7 1557.6,879.6 1565.6,864.1 1573.6,881.4 1581.6,875.0 1589.6,839.4 1597.6,841.2 1605.6,834.8 1613.6,825.7 1621.6,809.2 1629.6,773.6 1637.6,771.8 1645.6,759.9 1653.6,751.7 1661.6,760.8 1669.6,812.9 1677.6,809.2 1685.6,806.5 1693.6,827.5 1701.6,748.9 1709.6,730.7 1717.6,733.4 1725.6,739.8 1733.6,728.8 1741.6,733.4 1749.6,736.2 1757.6,739.8 1765.6,695.0 1773.6,694.1 1781.6,668.5 1789.6,694.1 1797.6,714.2 1805.6,677.7 1813.6,690.5 1821.6,678.6 1829.6,669.5 1837.6,650.3 1845.6,707.8 1853.6,767.2 1861.6,816.6 1869.6,851.3 1877.6,868.6 1885.6,870.5 1893.6,866.8 1901.6,873.2 1909.6,878.7 1917.6,870.5 1925.6,860.4 1933.6,864.1 1941.6,874.1 1949.6,895.1 1957.6,885.1 1965.6,898.8 1973.6,913.4 1981.6,924.4 1989.6,891.5 1997.6,829.4 2005.6,823.9 2013.6,812.9 2021.6,796.5 2029.6,752.6 2037.6,759.0 2045.6,769.0 2053.6,776.4 2061.6,798.7 2069.6,792.8 2077.6,812.0 2085.6,798.3 2093.6,820.2 2101.6,782.8 2109.6,774.2 2117.6,782.8 2133.6,782.2 2149.6,757.2 2165.6,714.6 2181.6,717.9 2197.6,707.3 2213.6,709.1 2229.6,710.6 2245.6,674.4 2261.6,687.7 2277.6,716.4 2293.6,702.4" fill="none" stroke="#8c8c8c" stroke-width="0.9" stroke-linejoin="round" stroke-dasharray="3 3"/>
<polyline points="72.5,732.1 77.6,742.2 93.6,774.7 109.6,807.8 125.6,840.3 141.6,856.4 157.6,844.9 165.6,835.7 173.6,847.6 181.6,869.6 189.6,875.0 197.6,886.9 205.6,899.7 213.6,911.6 221.6,897.3 229.6,897.9 237.6,899.7 245.6,908.8 253.6,923.1 261.6,924.0 269.6,928.4 277.6,925.3 285.6,924.4 293.6,925.3 301.6,916.1 309.6,902.4 317.6,888.4 325.6,880.5 333.6,840.3 341.6,790.6 349.6,789.5 357.6,791.9 365.6,795.5 373.6,782.8 381.6,760.8 389.6,747.7 397.6,759.9 405.6,777.3 413.6,793.7 421.6,798.3 429.6,811.1 437.6,828.4 445.6,836.7 453.6,829.7 461.6,818.8 469.6,829.7 477.6,841.2 485.6,852.6 493.6,857.7 501.6,835.2 509.6,838.5 517.6,854.0 525.6,870.5 533.6,863.7 541.6,870.5 549.6,884.5 557.6,871.7 565.6,879.6 573.6,870.5 581.6,861.3 589.6,861.3 597.6,863.2 605.6,872.7 613.6,859.5 621.6,860.4 629.6,869.6 637.6,860.4 645.6,849.5 653.6,838.9 661.6,814.7 669.6,799.2 677.6,788.2 685.6,781.5 693.6,782.8 701.6,782.8 709.6,800.1 717.6,785.1 725.6,769.6 733.6,774.2 741.6,785.5 749.6,812.9 757.6,825.3 765.6,839.4 773.6,844.9 781.6,847.3 789.6,851.3 797.6,860.4 805.6,848.9 813.6,828.4 821.6,800.1 829.6,764.8 837.6,748.0 845.6,730.7 853.6,715.5 861.6,717.3 869.6,709.7 877.6,693.2 885.6,677.7 893.6,665.8 901.6,652.6 909.6,656.7 917.6,666.7 925.6,674.4 933.6,671.3 941.6,676.2 949.6,664.9 957.6,651.6 965.6,647.5 973.6,645.3 981.6,671.3 989.6,701.4 997.6,707.3 1005.6,710.6 1013.6,706.4 1021.6,706.0 1029.6,722.5 1037.6,734.3 1045.6,761.7 1053.6,783.7 1061.6,794.3 1069.6,770.0 1077.6,752.6 1085.6,756.6 1093.6,776.4 1101.6,786.8 1109.6,758.5 1117.6,753.5 1125.6,766.9 1133.6,777.3 1141.6,788.2 1149.6,789.1 1157.6,766.3 1165.6,748.9 1173.6,727.0 1181.6,699.6 1189.6,673.7 1197.6,681.0 1205.6,698.7 1213.6,715.5 1221.6,715.5 1229.6,696.5 1237.6,703.3 1245.6,725.2 1253.6,755.3 1261.6,781.8 1269.6,791.0 1277.6,797.4 1285.6,801.9 1293.6,795.5 1301.6,794.6 1309.6,774.5 1317.6,770.5 1325.6,771.4 1333.6,784.6 1341.6,814.4 1349.6,816.6 1357.6,820.6 1365.6,818.8 1373.6,816.9 1381.6,814.7 1389.6,812.5 1397.6,813.5 1405.6,814.4 1413.6,800.1 1421.6,785.5 1429.6,786.6 1437.6,787.7 1445.6,814.4 1453.6,821.1 1461.6,824.4 1469.6,809.6 1477.6,806.1 1485.6,802.3 1493.6,804.7 1501.6,827.5 1509.6,849.5 1517.6,851.6 1525.6,861.9 1533.6,871.7 1541.6,874.5 1549.6,876.5 1557.6,878.7 1565.6,871.7 1573.6,875.9 1581.6,875.6 1589.6,857.7 1597.6,850.4 1605.6,843.1 1613.6,833.9 1621.6,823.0 1629.6,797.7 1637.6,784.0 1645.6,772.3 1653.6,761.4 1661.6,761.4 1669.6,787.3 1677.6,798.7 1685.6,801.9 1693.6,815.1 1701.6,786.4 1709.6,757.5 1717.6,746.8 1725.6,743.5 1733.6,735.6 1741.6,734.3 1749.6,735.8 1757.6,738.0 1765.6,717.0 1773.6,705.5 1781.6,685.5 1789.6,689.6 1797.6,702.4 1805.6,689.6 1813.6,691.8 1821.6,685.0 1829.6,678.6 1837.6,664.0 1845.6,685.9 1853.6,728.8 1861.6,771.8 1869.6,810.2 1877.6,840.3 1885.6,856.4 1893.6,861.9 1901.6,868.3 1909.6,873.6 1917.6,872.7 1925.6,866.4 1933.6,865.5 1941.6,870.5 1949.6,882.3 1957.6,883.8 1965.6,891.5 1973.6,903.0 1981.6,914.7 1989.6,902.4 1997.6,865.9 2005.6,844.0 2013.6,827.5 2021.6,812.0 2029.6,782.8 2037.6,769.4 2045.6,769.4 2053.6,771.8 2061.6,785.5 2069.6,789.5 2077.6,802.3 2085.6,800.5 2093.6,811.4 2101.6,798.3 2109.6,785.5 2117.6,784.2 2133.6,783.3 2149.6,770.5 2165.6,742.6 2181.6,729.8 2197.6,718.2 2213.6,714.6 2229.6,712.4 2245.6,693.6 2261.6,690.5 2277.6,704.5 2293.6,702.4" fill="none" stroke="#e4e400" stroke-width="1.15" stroke-linejoin="round" />
<polyline points="72.5,720.3 77.6,725.2 93.6,749.9 109.6,778.2 125.6,808.3 141.6,832.6 157.6,838.5 165.6,837.2 173.6,843.1 181.6,855.8 189.6,865.9 197.6,876.9 205.6,888.7 213.6,900.6 221.6,898.4 229.6,898.8 237.6,899.7 245.6,905.2 253.6,914.3 261.6,919.3 269.6,923.1 277.6,924.4 285.6,924.7 293.6,924.7 301.6,920.7 309.6,911.6 317.6,900.3 325.6,889.7 333.6,864.1 341.6,828.4 349.6,809.2 357.6,801.0 365.6,797.9 373.6,790.1 381.6,775.4 389.6,761.7 397.6,760.8 405.6,769.0 413.6,780.9 421.6,790.1 429.6,801.0 437.6,814.7 445.6,825.7 453.6,829.0 461.6,823.5 469.6,826.6 477.6,833.9 485.6,842.1 493.6,850.7 501.6,842.5 509.6,840.7 517.6,848.5 525.6,858.6 533.6,860.8 541.6,865.9 549.6,875.6 557.6,873.6 565.6,876.5 573.6,873.2 581.6,867.7 589.6,865.0 597.6,863.7 605.6,868.6 613.6,863.7 621.6,862.6 629.6,865.5 637.6,863.7 645.6,855.8 653.6,845.8 661.6,829.4 669.6,814.7 677.6,801.9 685.6,791.9 693.6,787.7 701.6,784.6 709.6,792.8 717.6,788.8 725.6,778.6 733.6,776.7 741.6,781.8 749.6,798.3 757.6,812.0 765.6,825.7 773.6,835.2 781.6,841.2 789.6,846.2 797.6,853.7 805.6,850.9 813.6,839.4 821.6,820.2 829.6,793.7 837.6,771.8 845.6,750.8 853.6,733.1 861.6,724.3 869.6,716.4 877.6,704.7 885.6,691.4 893.6,679.1 901.6,665.8 909.6,661.6 917.6,664.9 925.6,669.5 933.6,670.7 941.6,673.7 949.6,669.5 957.6,660.7 965.6,654.8 973.6,649.7 981.6,661.2 989.6,681.0 997.6,695.0 1005.6,702.4 1013.6,704.7 1021.6,705.1 1029.6,714.2 1037.6,725.2 1045.6,745.3 1053.6,763.6 1061.6,778.6 1069.6,774.2 1077.6,763.9 1085.6,760.8 1093.6,769.0 1101.6,777.6 1109.6,767.8 1117.6,760.3 1125.6,762.7 1133.6,770.0 1141.6,779.6 1149.6,784.6 1157.6,773.6 1165.6,760.8 1173.6,743.5 1181.6,722.5 1189.6,697.8 1197.6,689.0 1205.6,696.0 1213.6,704.7 1221.6,709.7 1229.6,703.6 1237.6,703.6 1245.6,716.1 1253.6,737.6 1261.6,759.9 1269.6,774.9 1277.6,785.9 1285.6,793.4 1293.6,794.3 1301.6,794.3 1309.6,785.1 1317.6,777.8 1325.6,774.5 1333.6,779.6 1341.6,797.7 1349.6,806.5 1357.6,813.3 1365.6,814.4 1373.6,815.3 1381.6,814.7 1389.6,813.3 1397.6,813.8 1405.6,814.4 1413.6,807.4 1421.6,800.7 1429.6,797.0 1437.6,793.4 1445.6,803.8 1453.6,812.5 1461.6,818.8 1469.6,814.4 1477.6,810.7 1485.6,806.5 1493.6,805.6 1501.6,818.4 1509.6,833.0 1517.6,842.1 1525.6,851.3 1533.6,861.3 1541.6,868.3 1549.6,872.3 1557.6,875.6 1565.6,873.6 1573.6,874.5 1581.6,875.6 1589.6,866.4 1597.6,858.0 1605.6,849.5 1613.6,841.2 1621.6,832.1 1629.6,816.6 1637.6,801.0 1645.6,787.3 1653.6,773.6 1661.6,767.6 1669.6,778.2 1677.6,787.3 1685.6,795.0 1693.6,805.6 1701.6,792.8 1709.6,776.4 1717.6,761.7 1725.6,751.7 1733.6,743.1 1741.6,739.4 1749.6,737.6 1757.6,737.6 1765.6,727.0 1773.6,716.1 1781.6,701.8 1789.6,695.4 1797.6,698.7 1805.6,695.0 1813.6,692.7 1821.6,688.3 1829.6,683.2 1837.6,673.7 1845.6,679.9 1853.6,705.1 1861.6,739.8 1869.6,776.4 1877.6,808.3 1885.6,833.0 1893.6,848.0 1901.6,857.7 1909.6,865.0 1917.6,869.6 1925.6,867.4 1933.6,866.8 1941.6,869.0 1949.6,875.9 1957.6,879.6 1965.6,885.1 1973.6,894.2 1981.6,904.6 1989.6,903.7 1997.6,884.2 2005.6,865.0 2013.6,846.7 2021.6,829.4 2029.6,805.6 2037.6,787.3 2045.6,778.2 2053.6,774.2 2061.6,780.0 2069.6,785.5 2077.6,793.2 2085.6,796.5 2093.6,804.7 2101.6,801.0 2109.6,793.2 2117.6,789.1 2133.6,786.4 2149.6,778.2 2165.6,760.8 2181.6,745.7 2197.6,732.5 2213.6,723.7 2229.6,717.0 2245.6,705.5 2261.6,698.3 2277.6,701.4 2293.6,701.4" fill="none" stroke="#00d8d8" stroke-width="1.15" stroke-linejoin="round" />
</g>
<g clip-path="url(#c4)">
<g shape-rendering="crispEdges">
<rect x="72" y="951" width="1" height="882" fill="#ffff00"/><rect x="2331" y="951" width="1" height="882" fill="#ffff00"/>
<rect x="69" y="999" width="3" height="1" fill="#ffff00"/><rect x="2332" y="999" width="3" height="1" fill="#ffff00"/>
<rect x="69" y="1027" width="3" height="1" fill="#ffff00"/><rect x="2332" y="1027" width="3" height="1" fill="#ffff00"/>
<rect x="69" y="1056" width="3" height="1" fill="#ffff00"/><rect x="2332" y="1056" width="3" height="1" fill="#ffff00"/>
<rect x="69" y="1084" width="3" height="1" fill="#ffff00"/><rect x="2332" y="1084" width="3" height="1" fill="#ffff00"/>
<rect x="69" y="1113" width="3" height="1" fill="#ffff00"/><rect x="2332" y="1113" width="3" height="1" fill="#ffff00"/>
<rect x="69" y="1141" width="3" height="1" fill="#ffff00"/><rect x="2332" y="1141" width="3" height="1" fill="#ffff00"/>
<rect x="69" y="1170" width="3" height="1" fill="#ffff00"/><rect x="2332" y="1170" width="3" height="1" fill="#ffff00"/>
<rect x="69" y="1198" width="3" height="1" fill="#ffff00"/><rect x="2332" y="1198" width="3" height="1" fill="#ffff00"/>
<rect x="69" y="1227" width="3" height="1" fill="#ffff00"/><rect x="2332" y="1227" width="3" height="1" fill="#ffff00"/>
<rect x="69" y="1255" width="3" height="1" fill="#ffff00"/><rect x="2332" y="1255" width="3" height="1" fill="#ffff00"/>
<rect x="69" y="1284" width="3" height="1" fill="#ffff00"/><rect x="2332" y="1284" width="3" height="1" fill="#ffff00"/>
<rect x="69" y="1312" width="3" height="1" fill="#ffff00"/><rect x="2332" y="1312" width="3" height="1" fill="#ffff00"/>
<rect x="69" y="1341" width="3" height="1" fill="#ffff00"/><rect x="2332" y="1341" width="3" height="1" fill="#ffff00"/>
<rect x="69" y="1369" width="3" height="1" fill="#ffff00"/><rect x="2332" y="1369" width="3" height="1" fill="#ffff00"/>
<rect x="69" y="1398" width="3" height="1" fill="#ffff00"/><rect x="2332" y="1398" width="3" height="1" fill="#ffff00"/>
<rect x="69" y="1426" width="3" height="1" fill="#ffff00"/><rect x="2332" y="1426" width="3" height="1" fill="#ffff00"/>
<rect x="69" y="1455" width="3" height="1" fill="#ffff00"/><rect x="2332" y="1455" width="3" height="1" fill="#ffff00"/>
<rect x="69" y="1483" width="3" height="1" fill="#ffff00"/><rect x="2332" y="1483" width="3" height="1" fill="#ffff00"/>
<rect x="69" y="1512" width="3" height="1" fill="#ffff00"/><rect x="2332" y="1512" width="3" height="1" fill="#ffff00"/>
<rect x="69" y="1540" width="3" height="1" fill="#ffff00"/><rect x="2332" y="1540" width="3" height="1" fill="#ffff00"/>
<rect x="69" y="1569" width="3" height="1" fill="#ffff00"/><rect x="2332" y="1569" width="3" height="1" fill="#ffff00"/>
<rect x="69" y="1597" width="3" height="1" fill="#ffff00"/><rect x="2332" y="1597" width="3" height="1" fill="#ffff00"/>
<rect x="69" y="1626" width="3" height="1" fill="#ffff00"/><rect x="2332" y="1626" width="3" height="1" fill="#ffff00"/>
<rect x="69" y="1654" width="3" height="1" fill="#ffff00"/><rect x="2332" y="1654" width="3" height="1" fill="#ffff00"/>
<rect x="69" y="1683" width="3" height="1" fill="#ffff00"/><rect x="2332" y="1683" width="3" height="1" fill="#ffff00"/>
<rect x="69" y="1711" width="3" height="1" fill="#ffff00"/><rect x="2332" y="1711" width="3" height="1" fill="#ffff00"/>
<rect x="69" y="1740" width="3" height="1" fill="#ffff00"/><rect x="2332" y="1740" width="3" height="1" fill="#ffff00"/>
<rect x="69" y="1768" width="3" height="1" fill="#ffff00"/><rect x="2332" y="1768" width="3" height="1" fill="#ffff00"/>
<rect x="69" y="1797" width="3" height="1" fill="#ffff00"/><rect x="2332" y="1797" width="3" height="1" fill="#ffff00"/>
<rect x="71" y="1013" width="1" height="1" fill="#ffff00"/><rect x="2332" y="1013" width="1" height="1" fill="#ffff00"/>
<rect x="71" y="1041" width="1" height="1" fill="#ffff00"/><rect x="2332" y="1041" width="1" height="1" fill="#ffff00"/>
<rect x="71" y="1070" width="1" height="1" fill="#ffff00"/><rect x="2332" y="1070" width="1" height="1" fill="#ffff00"/>
<rect x="71" y="1098" width="1" height="1" fill="#ffff00"/><rect x="2332" y="1098" width="1" height="1" fill="#ffff00"/>
<rect x="71" y="1127" width="1" height="1" fill="#ffff00"/><rect x="2332" y="1127" width="1" height="1" fill="#ffff00"/>
<rect x="71" y="1155" width="1" height="1" fill="#ffff00"/><rect x="2332" y="1155" width="1" height="1" fill="#ffff00"/>
<rect x="71" y="1184" width="1" height="1" fill="#ffff00"/><rect x="2332" y="1184" width="1" height="1" fill="#ffff00"/>
<rect x="71" y="1212" width="1" height="1" fill="#ffff00"/><rect x="2332" y="1212" width="1" height="1" fill="#ffff00"/>
<rect x="71" y="1241" width="1" height="1" fill="#ffff00"/><rect x="2332" y="1241" width="1" height="1" fill="#ffff00"/>
<rect x="71" y="1269" width="1" height="1" fill="#ffff00"/><rect x="2332" y="1269" width="1" height="1" fill="#ffff00"/>
<rect x="71" y="1298" width="1" height="1" fill="#ffff00"/><rect x="2332" y="1298" width="1" height="1" fill="#ffff00"/>
<rect x="71" y="1326" width="1" height="1" fill="#ffff00"/><rect x="2332" y="1326" width="1" height="1" fill="#ffff00"/>
<rect x="71" y="1355" width="1" height="1" fill="#ffff00"/><rect x="2332" y="1355" width="1" height="1" fill="#ffff00"/>
<rect x="71" y="1383" width="1" height="1" fill="#ffff00"/><rect x="2332" y="1383" width="1" height="1" fill="#ffff00"/>
<rect x="71" y="1412" width="1" height="1" fill="#ffff00"/><rect x="2332" y="1412" width="1" height="1" fill="#ffff00"/>
<rect x="71" y="1440" width="1" height="1" fill="#ffff00"/><rect x="2332" y="1440" width="1" height="1" fill="#ffff00"/>
<rect x="71" y="1469" width="1" height="1" fill="#ffff00"/><rect x="2332" y="1469" width="1" height="1" fill="#ffff00"/>
<rect x="71" y="1497" width="1" height="1" fill="#ffff00"/><rect x="2332" y="1497" width="1" height="1" fill="#ffff00"/>
<rect x="71" y="1526" width="1" height="1" fill="#ffff00"/><rect x="2332" y="1526" width="1" height="1" fill="#ffff00"/>
<rect x="71" y="1554" width="1" height="1" fill="#ffff00"/><rect x="2332" y="1554" width="1" height="1" fill="#ffff00"/>
<rect x="71" y="1583" width="1" height="1" fill="#ffff00"/><rect x="2332" y="1583" width="1" height="1" fill="#ffff00"/>
<rect x="71" y="1611" width="1" height="1" fill="#ffff00"/><rect x="2332" y="1611" width="1" height="1" fill="#ffff00"/>
<rect x="71" y="1640" width="1" height="1" fill="#ffff00"/><rect x="2332" y="1640" width="1" height="1" fill="#ffff00"/>
<rect x="71" y="1668" width="1" height="1" fill="#ffff00"/><rect x="2332" y="1668" width="1" height="1" fill="#ffff00"/>
<rect x="71" y="1697" width="1" height="1" fill="#ffff00"/><rect x="2332" y="1697" width="1" height="1" fill="#ffff00"/>
<rect x="71" y="1725" width="1" height="1" fill="#ffff00"/><rect x="2332" y="1725" width="1" height="1" fill="#ffff00"/>
<rect x="71" y="1754" width="1" height="1" fill="#ffff00"/><rect x="2332" y="1754" width="1" height="1" fill="#ffff00"/>
<rect x="71" y="1782" width="1" height="1" fill="#ffff00"/><rect x="2332" y="1782" width="1" height="1" fill="#ffff00"/>
<rect x="72" y="1832" width="2260" height="1" fill="#ffff00"/>
<rect x="205" y="1832" width="1" height="6" fill="#ffff00"/>
<rect x="357" y="1832" width="1" height="6" fill="#ffff00"/>
<rect x="533" y="1832" width="1" height="6" fill="#ffff00"/>
<rect x="701" y="1832" width="1" height="6" fill="#ffff00"/>
<rect x="861" y="1832" width="1" height="6" fill="#ffff00"/>
<rect x="1045" y="1832" width="1" height="6" fill="#ffff00"/>
<rect x="1205" y="1832" width="1" height="6" fill="#ffff00"/>
<rect x="1397" y="1832" width="1" height="6" fill="#ffff00"/>
<rect x="1589" y="1832" width="1" height="6" fill="#ffff00"/>
<rect x="1749" y="1832" width="1" height="22" fill="#ffff00"/>
<rect x="1917" y="1832" width="1" height="6" fill="#ffff00"/>
<rect x="2077" y="1832" width="1" height="6" fill="#ffff00"/>
</g>
<text x="207.4" y="1851" font-family="Liberation Sans, Arial, sans-serif" font-size="16" font-weight="bold" fill="#ffff00">Apr</text>
<text x="359.4" y="1851" font-family="Liberation Sans, Arial, sans-serif" font-size="16" font-weight="bold" fill="#ffff00">Mai</text>
<text x="535.4" y="1851" font-family="Liberation Sans, Arial, sans-serif" font-size="16" font-weight="bold" fill="#ffff00">Jun</text>
<text x="703.4" y="1851" font-family="Liberation Sans, Arial, sans-serif" font-size="16" font-weight="bold" fill="#ffff00">Jul</text>
<text x="863.4" y="1851" font-family="Liberation Sans, Arial, sans-serif" font-size="16" font-weight="bold" fill="#ffff00">Aug</text>
<text x="1047.4" y="1851" font-family="Liberation Sans, Arial, sans-serif" font-size="16" font-weight="bold" fill="#ffff00">Sep</text>
<text x="1207.4" y="1851" font-family="Liberation Sans, Arial, sans-serif" font-size="16" font-weight="bold" fill="#ffff00">Okt</text>
<text x="1399.4" y="1851" font-family="Liberation Sans, Arial, sans-serif" font-size="16" font-weight="bold" fill="#ffff00">Nov</text>
<text x="1591.4" y="1851" font-family="Liberation Sans, Arial, sans-serif" font-size="16" font-weight="bold" fill="#ffff00">Dez</text>
<text x="1751.4" y="1851" font-family="Liberation Sans, Arial, sans-serif" font-size="16" font-weight="bold" fill="#ffff00">2024</text>
<text x="1919.4" y="1851" font-family="Liberation Sans, Arial, sans-serif" font-size="16" font-weight="bold" fill="#ffff00">Feb</text>
<text x="2079.4" y="1851" font-family="Liberation Sans, Arial, sans-serif" font-size="16" font-weight="bold" fill="#ffff00">Mrz</text>
<text x="0.7" y="1004.2" font-family="Liberation Sans, Arial, sans-serif" font-size="16" font-weight="bold" fill="#ffff00" textLength="63.1" lengthAdjust="spacingAndGlyphs">5.250,00</text>
<text x="2340" y="1004.2" font-family="Liberation Sans, Arial, sans-serif" font-size="16" font-weight="bold" fill="#ffff00" textLength="63.1" lengthAdjust="spacingAndGlyphs">5.250,00</text>
<text x="0.7" y="1032.2" font-family="Liberation Sans, Arial, sans-serif" font-size="16" font-weight="bold" fill="#ffff00" textLength="63.1" lengthAdjust="spacingAndGlyphs">5.200,00</text>
<text x="2340" y="1032.2" font-family="Liberation Sans, Arial, sans-serif" font-size="16" font-weight="bold" fill="#ffff00" textLength="63.1" lengthAdjust="spacingAndGlyphs">5.200,00</text>
<text x="0.7" y="1061.2" font-family="Liberation Sans, Arial, sans-serif" font-size="16" font-weight="bold" fill="#ffff00" textLength="63.1" lengthAdjust="spacingAndGlyphs">5.150,00</text>
<text x="2340" y="1061.2" font-family="Liberation Sans, Arial, sans-serif" font-size="16" font-weight="bold" fill="#ffff00" textLength="63.1" lengthAdjust="spacingAndGlyphs">5.150,00</text>
<text x="0.7" y="1089.2" font-family="Liberation Sans, Arial, sans-serif" font-size="16" font-weight="bold" fill="#ffff00" textLength="63.1" lengthAdjust="spacingAndGlyphs">5.100,00</text>
<text x="2340" y="1089.2" font-family="Liberation Sans, Arial, sans-serif" font-size="16" font-weight="bold" fill="#ffff00" textLength="63.1" lengthAdjust="spacingAndGlyphs">5.100,00</text>
<text x="0.7" y="1118.2" font-family="Liberation Sans, Arial, sans-serif" font-size="16" font-weight="bold" fill="#ffff00" textLength="63.1" lengthAdjust="spacingAndGlyphs">5.050,00</text>
<text x="2340" y="1118.2" font-family="Liberation Sans, Arial, sans-serif" font-size="16" font-weight="bold" fill="#ffff00" textLength="63.1" lengthAdjust="spacingAndGlyphs">5.050,00</text>
<text x="0.7" y="1146.2" font-family="Liberation Sans, Arial, sans-serif" font-size="16" font-weight="bold" fill="#ffff00" textLength="63.1" lengthAdjust="spacingAndGlyphs">5.000,00</text>
<text x="2340" y="1146.2" font-family="Liberation Sans, Arial, sans-serif" font-size="16" font-weight="bold" fill="#ffff00" textLength="63.1" lengthAdjust="spacingAndGlyphs">5.000,00</text>
<text x="0.7" y="1175.2" font-family="Liberation Sans, Arial, sans-serif" font-size="16" font-weight="bold" fill="#ffff00" textLength="63.1" lengthAdjust="spacingAndGlyphs">4.950,00</text>
<text x="2340" y="1175.2" font-family="Liberation Sans, Arial, sans-serif" font-size="16" font-weight="bold" fill="#ffff00" textLength="63.1" lengthAdjust="spacingAndGlyphs">4.950,00</text>
<text x="0.7" y="1203.2" font-family="Liberation Sans, Arial, sans-serif" font-size="16" font-weight="bold" fill="#ffff00" textLength="63.1" lengthAdjust="spacingAndGlyphs">4.900,00</text>
<text x="2340" y="1203.2" font-family="Liberation Sans, Arial, sans-serif" font-size="16" font-weight="bold" fill="#ffff00" textLength="63.1" lengthAdjust="spacingAndGlyphs">4.900,00</text>
<text x="0.7" y="1232.2" font-family="Liberation Sans, Arial, sans-serif" font-size="16" font-weight="bold" fill="#ffff00" textLength="63.1" lengthAdjust="spacingAndGlyphs">4.850,00</text>
<text x="2340" y="1232.2" font-family="Liberation Sans, Arial, sans-serif" font-size="16" font-weight="bold" fill="#ffff00" textLength="63.1" lengthAdjust="spacingAndGlyphs">4.850,00</text>
<text x="0.7" y="1260.2" font-family="Liberation Sans, Arial, sans-serif" font-size="16" font-weight="bold" fill="#ffff00" textLength="63.1" lengthAdjust="spacingAndGlyphs">4.800,00</text>
<text x="2340" y="1260.2" font-family="Liberation Sans, Arial, sans-serif" font-size="16" font-weight="bold" fill="#ffff00" textLength="63.1" lengthAdjust="spacingAndGlyphs">4.800,00</text>
<text x="0.7" y="1289.2" font-family="Liberation Sans, Arial, sans-serif" font-size="16" font-weight="bold" fill="#ffff00" textLength="63.1" lengthAdjust="spacingAndGlyphs">4.750,00</text>
<text x="2340" y="1289.2" font-family="Liberation Sans, Arial, sans-serif" font-size="16" font-weight="bold" fill="#ffff00" textLength="63.1" lengthAdjust="spacingAndGlyphs">4.750,00</text>
<text x="0.7" y="1317.2" font-family="Liberation Sans, Arial, sans-serif" font-size="16" font-weight="bold" fill="#ffff00" textLength="63.1" lengthAdjust="spacingAndGlyphs">4.700,00</text>
<text x="2340" y="1317.2" font-family="Liberation Sans, Arial, sans-serif" font-size="16" font-weight="bold" fill="#ffff00" textLength="63.1" lengthAdjust="spacingAndGlyphs">4.700,00</text>
<text x="0.7" y="1346.2" font-family="Liberation Sans, Arial, sans-serif" font-size="16" font-weight="bold" fill="#ffff00" textLength="63.1" lengthAdjust="spacingAndGlyphs">4.650,00</text>
<text x="2340" y="1346.2" font-family="Liberation Sans, Arial, sans-serif" font-size="16" font-weight="bold" fill="#ffff00" textLength="63.1" lengthAdjust="spacingAndGlyphs">4.650,00</text>
<text x="0.7" y="1374.2" font-family="Liberation Sans, Arial, sans-serif" font-size="16" font-weight="bold" fill="#ffff00" textLength="63.1" lengthAdjust="spacingAndGlyphs">4.600,00</text>
<text x="2340" y="1374.2" font-family="Liberation Sans, Arial, sans-serif" font-size="16" font-weight="bold" fill="#ffff00" textLength="63.1" lengthAdjust="spacingAndGlyphs">4.600,00</text>
<text x="0.7" y="1403.2" font-family="Liberation Sans, Arial, sans-serif" font-size="16" font-weight="bold" fill="#ffff00" textLength="63.1" lengthAdjust="spacingAndGlyphs">4.550,00</text>
<text x="2340" y="1403.2" font-family="Liberation Sans, Arial, sans-serif" font-size="16" font-weight="bold" fill="#ffff00" textLength="63.1" lengthAdjust="spacingAndGlyphs">4.550,00</text>
<text x="0.7" y="1431.2" font-family="Liberation Sans, Arial, sans-serif" font-size="16" font-weight="bold" fill="#ffff00" textLength="63.1" lengthAdjust="spacingAndGlyphs">4.500,00</text>
<text x="2340" y="1431.2" font-family="Liberation Sans, Arial, sans-serif" font-size="16" font-weight="bold" fill="#ffff00" textLength="63.1" lengthAdjust="spacingAndGlyphs">4.500,00</text>
<text x="0.7" y="1460.2" font-family="Liberation Sans, Arial, sans-serif" font-size="16" font-weight="bold" fill="#ffff00" textLength="63.1" lengthAdjust="spacingAndGlyphs">4.450,00</text>
<text x="2340" y="1460.2" font-family="Liberation Sans, Arial, sans-serif" font-size="16" font-weight="bold" fill="#ffff00" textLength="63.1" lengthAdjust="spacingAndGlyphs">4.450,00</text>
<text x="0.7" y="1488.2" font-family="Liberation Sans, Arial, sans-serif" font-size="16" font-weight="bold" fill="#ffff00" textLength="63.1" lengthAdjust="spacingAndGlyphs">4.400,00</text>
<text x="2340" y="1488.2" font-family="Liberation Sans, Arial, sans-serif" font-size="16" font-weight="bold" fill="#ffff00" textLength="63.1" lengthAdjust="spacingAndGlyphs">4.400,00</text>
<text x="0.7" y="1517.2" font-family="Liberation Sans, Arial, sans-serif" font-size="16" font-weight="bold" fill="#ffff00" textLength="63.1" lengthAdjust="spacingAndGlyphs">4.350,00</text>
<text x="2340" y="1517.2" font-family="Liberation Sans, Arial, sans-serif" font-size="16" font-weight="bold" fill="#ffff00" textLength="63.1" lengthAdjust="spacingAndGlyphs">4.350,00</text>
<text x="0.7" y="1545.2" font-family="Liberation Sans, Arial, sans-serif" font-size="16" font-weight="bold" fill="#ffff00" textLength="63.1" lengthAdjust="spacingAndGlyphs">4.300,00</text>
<text x="2340" y="1545.2" font-family="Liberation Sans, Arial, sans-serif" font-size="16" font-weight="bold" fill="#ffff00" textLength="63.1" lengthAdjust="spacingAndGlyphs">4.300,00</text>
<text x="0.7" y="1574.2" font-family="Liberation Sans, Arial, sans-serif" font-size="16" font-weight="bold" fill="#ffff00" textLength="63.1" lengthAdjust="spacingAndGlyphs">4.250,00</text>
<text x="2340" y="1574.2" font-family="Liberation Sans, Arial, sans-serif" font-size="16" font-weight="bold" fill="#ffff00" textLength="63.1" lengthAdjust="spacingAndGlyphs">4.250,00</text>
<text x="0.7" y="1602.2" font-family="Liberation Sans, Arial, sans-serif" font-size="16" font-weight="bold" fill="#ffff00" textLength="63.1" lengthAdjust="spacingAndGlyphs">4.200,00</text>
<text x="2340" y="1602.2" font-family="Liberation Sans, Arial, sans-serif" font-size="16" font-weight="bold" fill="#ffff00" textLength="63.1" lengthAdjust="spacingAndGlyphs">4.200,00</text>
<text x="0.7" y="1631.2" font-family="Liberation Sans, Arial, sans-serif" font-size="16" font-weight="bold" fill="#ffff00" textLength="63.1" lengthAdjust="spacingAndGlyphs">4.150,00</text>
<text x="2340" y="1631.2" font-family="Liberation Sans, Arial, sans-serif" font-size="16" font-weight="bold" fill="#ffff00" textLength="63.1" lengthAdjust="spacingAndGlyphs">4.150,00</text>
<text x="0.7" y="1659.2" font-family="Liberation Sans, Arial, sans-serif" font-size="16" font-weight="bold" fill="#ffff00" textLength="63.1" lengthAdjust="spacingAndGlyphs">4.100,00</text>
<text x="2340" y="1659.2" font-family="Liberation Sans, Arial, sans-serif" font-size="16" font-weight="bold" fill="#ffff00" textLength="63.1" lengthAdjust="spacingAndGlyphs">4.100,00</text>
<text x="0.7" y="1688.2" font-family="Liberation Sans, Arial, sans-serif" font-size="16" font-weight="bold" fill="#ffff00" textLength="63.1" lengthAdjust="spacingAndGlyphs">4.050,00</text>
<text x="2340" y="1688.2" font-family="Liberation Sans, Arial, sans-serif" font-size="16" font-weight="bold" fill="#ffff00" textLength="63.1" lengthAdjust="spacingAndGlyphs">4.050,00</text>
<text x="0.7" y="1716.2" font-family="Liberation Sans, Arial, sans-serif" font-size="16" font-weight="bold" fill="#ffff00" textLength="63.1" lengthAdjust="spacingAndGlyphs">4.000,00</text>
<text x="2340" y="1716.2" font-family="Liberation Sans, Arial, sans-serif" font-size="16" font-weight="bold" fill="#ffff00" textLength="63.1" lengthAdjust="spacingAndGlyphs">4.000,00</text>
<text x="0.7" y="1745.2" font-family="Liberation Sans, Arial, sans-serif" font-size="16" font-weight="bold" fill="#ffff00" textLength="63.1" lengthAdjust="spacingAndGlyphs">3.950,00</text>
<text x="2340" y="1745.2" font-family="Liberation Sans, Arial, sans-serif" font-size="16" font-weight="bold" fill="#ffff00" textLength="63.1" lengthAdjust="spacingAndGlyphs">3.950,00</text>
<text x="0.7" y="1773.2" font-family="Liberation Sans, Arial, sans-serif" font-size="16" font-weight="bold" fill="#ffff00" textLength="63.1" lengthAdjust="spacingAndGlyphs">3.900,00</text>
<text x="2340" y="1773.2" font-family="Liberation Sans, Arial, sans-serif" font-size="16" font-weight="bold" fill="#ffff00" textLength="63.1" lengthAdjust="spacingAndGlyphs">3.900,00</text>
<text x="0.7" y="1802.2" font-family="Liberation Sans, Arial, sans-serif" font-size="16" font-weight="bold" fill="#ffff00" textLength="63.1" lengthAdjust="spacingAndGlyphs">3.850,00</text>
<text x="2340" y="1802.2" font-family="Liberation Sans, Arial, sans-serif" font-size="16" font-weight="bold" fill="#ffff00" textLength="63.1" lengthAdjust="spacingAndGlyphs">3.850,00</text>
<polygon points="0,1009 63,1009 71,1017.5 63,1025.8 0,1025.8" fill="#00ff00"/>
<text x="0.3" y="1024.3" font-family="Liberation Sans, Arial, sans-serif" font-size="16" font-weight="bold" fill="#000" textLength="62.2" lengthAdjust="spacingAndGlyphs">5.218,19</text>
<polygon points="2411.5,1009 2341.5,1009 2333.5,1017.5 2341.5,1025.8 2411.5,1025.8" fill="#00ff00"/>
<text x="2342.3" y="1024.3" font-family="Liberation Sans, Arial, sans-serif" font-size="16" font-weight="bold" fill="#000" textLength="62.8" lengthAdjust="spacingAndGlyphs">5.218,19</text>
<text x="77" y="968" font-family="Liberation Sans, Arial, sans-serif" font-size="16" fill="#ffff00" textLength="270.5" lengthAdjust="spacingAndGlyphs">EW-Croc Longsignale Abstandstest 3</text>
<text x="368" y="968" font-family="Liberation Sans, Arial, sans-serif" font-size="16" fill="#ffff00" textLength="274.5" lengthAdjust="spacingAndGlyphs">EW-Croc Shortsignale Abstandstest 3</text>
<text x="662" y="968" font-family="Liberation Sans, Arial, sans-serif" font-size="16" fill="#ffff00" textLength="201.5" lengthAdjust="spacingAndGlyphs">ICE Bear/Bull 1 Punkt/Kreis</text>
<text x="882" y="968" font-family="Liberation Sans, Arial, sans-serif" font-size="16" fill="#fff" textLength="42" lengthAdjust="spacingAndGlyphs">$SPX</text>
<text x="993.5" y="968" font-family="Liberation Sans, Arial, sans-serif" font-size="16" fill="#fff" textLength="108.5" lengthAdjust="spacingAndGlyphs">S&amp;P 500 Index</text>
<text x="1113" y="968" font-family="Liberation Sans, Arial, sans-serif" font-size="16" fill="#fff" textLength="41.5" lengthAdjust="spacingAndGlyphs">1 Day</text>
<rect x="933.5" y="953.5" width="18.0" height="18" rx="2" fill="none" stroke="#fff" stroke-width="1"/>
<polygon points="939.0,961.0 946.0,961.0 942.5,965.0" fill="#fff"/>
<rect x="961.5" y="953.5" width="22.0" height="18" rx="2" fill="none" stroke="#fff" stroke-width="1"/>
<text x="965" y="968" font-family="Liberation Sans, Arial, sans-serif" font-size="16" fill="#fff">I</text>
<polygon points="973.0,961.0 980.0,961.0 976.5,965.0" fill="#fff"/>
<rect x="1164.5" y="953.5" width="18.0" height="18" rx="2" fill="none" stroke="#fff" stroke-width="1"/>
<polygon points="1170.0,961.0 1177.0,961.0 1173.5,965.0" fill="#fff"/>
<rect x="1192.5" y="953.5" width="28.0" height="18" rx="2" fill="#ff0000" stroke="#fff" stroke-width="1"/>
<text x="1196" y="968" font-family="Liberation Sans, Arial, sans-serif" font-size="16" fill="#000">R</text>
<polygon points="1210.5,961.0 1217.5,961.0 1214.0,965.0" fill="#000"/>
<g shape-rendering="crispEdges">
<rect x="0" y="1807" width="73" height="43" fill="#000"/>
<rect x="0" y="1808" width="73" height="2" fill="#000"/>
<rect x="0" y="1811" width="73" height="2" fill="#ff0000"/>
<rect x="0" y="1814" width="73" height="2" fill="#ff0000"/>
<rect x="0" y="1817" width="73" height="2" fill="#00ff00"/>
<rect x="0" y="1820" width="73" height="2" fill="#00ff00"/>
<rect x="0" y="1823" width="73" height="2" fill="#00ff00"/>
<rect x="0" y="1826" width="73" height="2" fill="#00ff00"/>
<rect x="0" y="1829" width="73" height="2" fill="#00ff00"/>
<rect x="0" y="1832" width="73" height="2" fill="#00ff00"/>
<rect x="0" y="1835" width="73" height="2" fill="#00ff00"/>
<rect x="0" y="1838" width="73" height="2" fill="#00ff00"/>
<rect x="0" y="1841" width="73" height="2" fill="#00ff00"/>
<rect x="0" y="1844" width="73" height="2" fill="#000"/>
<rect x="0" y="1847" width="73" height="2" fill="#000"/>
</g>
<polygon points="72,1810 68,1810 71,1844 72,1844" fill="#000"/>
<text x="63" y="1817.5" text-anchor="end" font-family="Liberation Sans, Arial, sans-serif" font-size="11" font-weight="bold" fill="#000">NaN NaN</text>
<text x="63" y="1826.0" text-anchor="end" font-family="Liberation Sans, Arial, sans-serif" font-size="11" font-weight="bold" fill="#000">0 0,4 NaN</text>
<text x="63" y="1832.0" text-anchor="end" font-family="Liberation Sans, Arial, sans-serif" font-size="11" font-weight="bold" fill="#000">0  0,4 NaN</text>
<text x="63" y="1838.0" text-anchor="end" font-family="Liberation Sans, Arial, sans-serif" font-size="11" font-weight="bold" fill="#000">0,04 NaN</text>
<text x="63" y="1843.0" text-anchor="end" font-family="Liberation Sans, Arial, sans-serif" font-size="11" font-weight="bold" fill="#000">0,4 Na</text>
<text x="63" y="1848.5" text-anchor="end" font-family="Liberation Sans, Arial, sans-serif" font-size="11" font-weight="bold" fill="#000">A /1</text>
<g shape-rendering="crispEdges">
<rect x="0" y="1807" width="73" height="1" fill="#fff"/>
<rect x="0" y="1810" width="73" height="1" fill="#fff"/>
<rect x="0" y="1813" width="73" height="1" fill="#fff"/>
<rect x="0" y="1816" width="73" height="1" fill="#fff"/>
<rect x="0" y="1819" width="73" height="1" fill="#fff"/>
<rect x="0" y="1822" width="73" height="1" fill="#fff"/>
<rect x="0" y="1825" width="73" height="1" fill="#fff"/>
<rect x="0" y="1828" width="73" height="1" fill="#fff"/>
<rect x="0" y="1831" width="73" height="1" fill="#fff"/>
<rect x="0" y="1834" width="73" height="1" fill="#fff"/>
<rect x="0" y="1837" width="73" height="1" fill="#fff"/>
<rect x="0" y="1840" width="73" height="1" fill="#fff"/>
<rect x="0" y="1843" width="73" height="1" fill="#fff"/>
<rect x="0" y="1846" width="73" height="1" fill="#fff"/>
<rect x="0" y="1849" width="73" height="1" fill="#fff"/>
<rect x="0" y="1808" width="73" height="2" fill="#000"/><rect x="0" y="1844" width="73" height="2" fill="#000"/><rect x="0" y="1847" width="73" height="2" fill="#000"/>
</g>
<g shape-rendering="crispEdges">
<rect x="2332" y="1807" width="80" height="43" fill="#000"/>
<rect x="2332" y="1808" width="80" height="2" fill="#000"/>
<rect x="2332" y="1811" width="80" height="2" fill="#ff0000"/>
<rect x="2332" y="1814" width="80" height="2" fill="#ff0000"/>
<rect x="2332" y="1817" width="80" height="2" fill="#00ff00"/>
<rect x="2332" y="1820" width="80" height="2" fill="#00ff00"/>
<rect x="2332" y="1823" width="80" height="2" fill="#00ff00"/>
<rect x="2332" y="1826" width="80" height="2" fill="#00ff00"/>
<rect x="2332" y="1829" width="80" height="2" fill="#00ff00"/>
<rect x="2332" y="1832" width="80" height="2" fill="#00ff00"/>
<rect x="2332" y="1835" width="80" height="2" fill="#00ff00"/>
<rect x="2332" y="1838" width="80" height="2" fill="#00ff00"/>
<rect x="2332" y="1841" width="80" height="2" fill="#00ff00"/>
<rect x="2332" y="1844" width="80" height="2" fill="#000"/>
<rect x="2332" y="1847" width="80" height="2" fill="#000"/>
</g>
<polygon points="2332,1810 2337,1810 2334,1844 2332,1844" fill="#000"/>
<text x="2343" y="1817.5" font-family="Liberation Sans, Arial, sans-serif" font-size="11" font-weight="bold" fill="#000">NaN NaN</text>
<text x="2343" y="1826.0" font-family="Liberation Sans, Arial, sans-serif" font-size="11" font-weight="bold" fill="#000">0 0,44  NaN</text>
<text x="2343" y="1832.0" font-family="Liberation Sans, Arial, sans-serif" font-size="11" font-weight="bold" fill="#000">-0,44 0,NaN</text>
<text x="2343" y="1838.0" font-family="Liberation Sans, Arial, sans-serif" font-size="11" font-weight="bold" fill="#000">A 0,44</text>
<text x="2343" y="1843.0" font-family="Liberation Sans, Arial, sans-serif" font-size="11" font-weight="bold" fill="#000">0,04  NaN</text>
<text x="2343" y="1848.5" font-family="Liberation Sans, Arial, sans-serif" font-size="11" font-weight="bold" fill="#000">A  /1</text>
<g shape-rendering="crispEdges">
<rect x="2332" y="1807" width="80" height="1" fill="#fff"/>
<rect x="2332" y="1810" width="80" height="1" fill="#fff"/>
<rect x="2332" y="1813" width="80" height="1" fill="#fff"/>
<rect x="2332" y="1816" width="80" height="1" fill="#fff"/>
<rect x="2332" y="1819" width="80" height="1" fill="#fff"/>
<rect x="2332" y="1822" width="80" height="1" fill="#fff"/>
<rect x="2332" y="1825" width="80" height="1" fill="#fff"/>
<rect x="2332" y="1828" width="80" height="1" fill="#fff"/>
<rect x="2332" y="1831" width="80" height="1" fill="#fff"/>
<rect x="2332" y="1834" width="80" height="1" fill="#fff"/>
<rect x="2332" y="1837" width="80" height="1" fill="#fff"/>
<rect x="2332" y="1840" width="80" height="1" fill="#fff"/>
<rect x="2332" y="1843" width="80" height="1" fill="#fff"/>
<rect x="2332" y="1846" width="80" height="1" fill="#fff"/>
<rect x="2332" y="1849" width="80" height="1" fill="#fff"/>
<rect x="2332" y="1808" width="80" height="2" fill="#000"/><rect x="2332" y="1844" width="80" height="2" fill="#000"/><rect x="2332" y="1847" width="80" height="2" fill="#000"/>
</g>
<g shape-rendering="crispEdges"><rect x="72" y="1807" width="1" height="43" fill="#fff"/><rect x="2331" y="1807" width="1" height="43" fill="#ffff00"/></g>
<g shape-rendering="crispEdges">
<rect x="85" y="1736" width="1" height="24" fill="#fff"/>
<rect x="83" y="1739" width="5" height="21" fill="#00ff00"/>
<rect x="101" y="1706" width="1" height="23" fill="#fff"/>
<rect x="99" y="1710" width="5" height="16" fill="#00ff00"/>
<rect x="117" y="1689" width="1" height="60" fill="#fff"/>
<rect x="115" y="1710" width="5" height="39" fill="#ff0000"/>
<rect x="133" y="1707" width="1" height="52" fill="#fff"/>
<rect x="131" y="1735" width="5" height="7" fill="#ff0000"/>
<rect x="149" y="1727" width="1" height="37" fill="#fff"/>
<rect x="147" y="1728" width="5" height="19" fill="#00ff00"/>
<rect x="165" y="1709" width="1" height="20" fill="#fff"/>
<rect x="163" y="1721" width="5" height="4" fill="#ff0000"/>
<rect x="173" y="1724" width="1" height="16" fill="#fff"/>
<rect x="171" y="1726" width="5" height="3" fill="#ff0000"/>
<rect x="181" y="1694" width="1" height="19" fill="#fff"/>
<rect x="179" y="1696" width="5" height="17" fill="#00ff00"/>
<rect x="189" y="1679" width="1" height="15" fill="#fff"/>
<rect x="187" y="1683" width="5" height="3" fill="#00ff00"/>
<rect x="197" y="1648" width="1" height="33" fill="#fff"/>
<rect x="195" y="1649" width="5" height="32" fill="#00ff00"/>
<rect x="205" y="1639" width="1" height="17" fill="#fff"/>
<rect x="203" y="1641" width="5" height="13" fill="#00ff00"/>
<rect x="213" y="1636" width="1" height="27" fill="#fff"/>
<rect x="211" y="1639" width="5" height="16" fill="#ff0000"/>
<rect x="221" y="1655" width="1" height="16" fill="#fff"/>
<rect x="219" y="1658" width="5" height="3" fill="#ff0000"/>
<rect x="229" y="1650" width="1" height="23" fill="#fff"/>
<rect x="227" y="1652" width="5" height="14" fill="#00ff00"/>
<rect x="237" y="1649" width="1" height="22" fill="#fff"/>
<rect x="235" y="1649" width="5" height="15" fill="#00ff00"/>
<rect x="245" y="1641" width="1" height="13" fill="#fff"/>
<rect x="243" y="1649" width="5" height="2" fill="#ff0000"/>
<rect x="253" y="1635" width="1" height="28" fill="#fff"/>
<rect x="251" y="1642" width="5" height="18" fill="#ff0000"/>
<rect x="261" y="1626" width="1" height="30" fill="#fff"/>
<rect x="259" y="1628" width="5" height="28" fill="#00ff00"/>
<rect x="269" y="1619" width="1" height="29" fill="#fff"/>
<rect x="267" y="1632" width="5" height="2" fill="#ff0000"/>
<rect x="277" y="1625" width="1" height="17" fill="#fff"/>
<rect x="275" y="1625" width="5" height="9" fill="#00ff00"/>
<rect x="285" y="1615" width="1" height="18" fill="#fff"/>
<rect x="283" y="1618" width="5" height="6" fill="#ff0000"/>
<rect x="293" y="1619" width="1" height="17" fill="#fff"/>
<rect x="291" y="1624" width="5" height="9" fill="#00ff00"/>
<rect x="301" y="1627" width="1" height="20" fill="#fff"/>
<rect x="299" y="1637" width="5" height="2" fill="#ff0000"/>
<rect x="309" y="1633" width="1" height="15" fill="#fff"/>
<rect x="307" y="1635" width="5" height="2" fill="#00ff00"/>
<rect x="317" y="1630" width="1" height="15" fill="#fff"/>
<rect x="315" y="1633" width="5" height="4" fill="#00ff00"/>
<rect x="325" y="1640" width="1" height="32" fill="#fff"/>
<rect x="323" y="1640" width="5" height="32" fill="#ff0000"/>
<rect x="333" y="1661" width="1" height="24" fill="#fff"/>
<rect x="331" y="1662" width="5" height="19" fill="#ff0000"/>
<rect x="341" y="1633" width="1" height="37" fill="#fff"/>
<rect x="339" y="1634" width="5" height="36" fill="#00ff00"/>
<rect x="349" y="1615" width="1" height="25" fill="#fff"/>
<rect x="347" y="1615" width="5" height="24" fill="#00ff00"/>
<rect x="357" y="1605" width="1" height="14" fill="#fff"/>
<rect x="355" y="1616" width="5" height="2" fill="#00ff00"/>
<rect x="365" y="1618" width="1" height="43" fill="#fff"/>
<rect x="363" y="1618" width="5" height="26" fill="#ff0000"/>
<rect x="373" y="1627" width="1" height="35" fill="#fff"/>
<rect x="371" y="1642" width="5" height="19" fill="#ff0000"/>
<rect x="381" y="1665" width="1" height="20" fill="#fff"/>
<rect x="379" y="1665" width="5" height="13" fill="#ff0000"/>
<rect x="389" y="1628" width="1" height="36" fill="#fff"/>
<rect x="387" y="1634" width="5" height="30" fill="#00ff00"/>
<rect x="397" y="1630" width="1" height="12" fill="#fff"/>
<rect x="395" y="1633" width="5" height="2" fill="#00ff00"/>
<rect x="405" y="1637" width="1" height="9" fill="#fff"/>
<rect x="403" y="1641" width="5" height="4" fill="#ff0000"/>
<rect x="413" y="1624" width="1" height="32" fill="#fff"/>
<rect x="411" y="1630" width="5" height="4" fill="#ff0000"/>
<rect x="421" y="1636" width="1" height="14" fill="#fff"/>
<rect x="419" y="1636" width="5" height="2" fill="#ff0000"/>
<rect x="429" y="1630" width="1" height="26" fill="#fff"/>
<rect x="427" y="1633" width="5" height="9" fill="#ff0000"/>
<rect x="437" y="1631" width="1" height="19" fill="#fff"/>
<rect x="435" y="1634" width="5" height="6" fill="#00ff00"/>
<rect x="445" y="1634" width="1" height="16" fill="#fff"/>
<rect x="443" y="1639" width="5" height="11" fill="#ff0000"/>
<rect x="453" y="1618" width="1" height="30" fill="#fff"/>
<rect x="451" y="1621" width="5" height="22" fill="#00ff00"/>
<rect x="461" y="1596" width="1" height="29" fill="#fff"/>
<rect x="459" y="1599" width="5" height="24" fill="#00ff00"/>
<rect x="469" y="1590" width="1" height="20" fill="#fff"/>
<rect x="467" y="1595" width="5" height="8" fill="#ff0000"/>
<rect x="477" y="1592" width="1" height="18" fill="#fff"/>
<rect x="475" y="1602" width="5" height="2" fill="#00ff00"/>
<rect x="485" y="1606" width="1" height="25" fill="#fff"/>
<rect x="483" y="1611" width="5" height="19" fill="#ff0000"/>
<rect x="493" y="1636" width="1" height="17" fill="#fff"/>
<rect x="491" y="1636" width="5" height="11" fill="#ff0000"/>
<rect x="501" y="1617" width="1" height="22" fill="#fff"/>
<rect x="499" y="1623" width="5" height="3" fill="#ff0000"/>
<rect x="509" y="1590" width="1" height="34" fill="#fff"/>
<rect x="507" y="1594" width="5" height="30" fill="#00ff00"/>
<rect x="517" y="1580" width="1" height="23" fill="#fff"/>
<rect x="515" y="1582" width="5" height="13" fill="#ff0000"/>
<rect x="525" y="1600" width="1" height="18" fill="#fff"/>
<rect x="523" y="1603" width="5" height="7" fill="#ff0000"/>
<rect x="533" y="1579" width="1" height="36" fill="#fff"/>
<rect x="531" y="1586" width="5" height="22" fill="#00ff00"/>
<rect x="541" y="1546" width="1" height="29" fill="#fff"/>
<rect x="539" y="1551" width="5" height="24" fill="#00ff00"/>
<rect x="549" y="1541" width="1" height="19" fill="#fff"/>
<rect x="547" y="1550" width="5" height="6" fill="#ff0000"/>
<rect x="557" y="1547" width="1" height="16" fill="#fff"/>
<rect x="555" y="1550" width="5" height="8" fill="#00ff00"/>
<rect x="565" y="1541" width="1" height="21" fill="#fff"/>
<rect x="563" y="1549" width="5" height="11" fill="#ff0000"/>
<rect x="573" y="1542" width="1" height="22" fill="#fff"/>
<rect x="571" y="1544" width="5" height="15" fill="#00ff00"/>
<rect x="581" y="1528" width="1" height="18" fill="#fff"/>
<rect x="579" y="1538" width="5" height="4" fill="#ff0000"/>
<rect x="589" y="1518" width="1" height="21" fill="#fff"/>
<rect x="587" y="1518" width="5" height="19" fill="#00ff00"/>
<rect x="597" y="1498" width="1" height="15" fill="#fff"/>
<rect x="595" y="1501" width="5" height="11" fill="#00ff00"/>
<rect x="605" y="1488" width="1" height="32" fill="#fff"/>
<rect x="603" y="1499" width="5" height="5" fill="#00ff00"/>
<rect x="613" y="1461" width="1" height="45" fill="#fff"/>
<rect x="611" y="1469" width="5" height="35" fill="#00ff00"/>
<rect x="621" y="1456" width="1" height="24" fill="#fff"/>
<rect x="619" y="1460" width="5" height="19" fill="#ff0000"/>
<rect x="629" y="1483" width="1" height="20" fill="#fff"/>
<rect x="627" y="1486" width="5" height="5" fill="#ff0000"/>
<rect x="637" y="1491" width="1" height="16" fill="#fff"/>
<rect x="635" y="1495" width="5" height="9" fill="#ff0000"/>
<rect x="645" y="1494" width="1" height="18" fill="#fff"/>
<rect x="643" y="1494" width="5" height="16" fill="#00ff00"/>
<rect x="653" y="1503" width="1" height="15" fill="#fff"/>
<rect x="651" y="1510" width="5" height="4" fill="#ff0000"/>
<rect x="661" y="1505" width="1" height="21" fill="#fff"/>
<rect x="659" y="1515" width="5" height="10" fill="#ff0000"/>
<rect x="669" y="1492" width="1" height="30" fill="#fff"/>
<rect x="667" y="1496" width="5" height="24" fill="#00ff00"/>
<rect x="677" y="1489" width="1" height="18" fill="#fff"/>
<rect x="675" y="1497" width="5" height="6" fill="#00ff00"/>
<rect x="685" y="1484" width="1" height="16" fill="#fff"/>
<rect x="683" y="1486" width="5" height="13" fill="#00ff00"/>
<rect x="693" y="1450" width="1" height="22" fill="#fff"/>
<rect x="691" y="1455" width="5" height="17" fill="#00ff00"/>
<rect x="701" y="1451" width="1" height="9" fill="#fff"/>
<rect x="699" y="1452" width="5" height="4" fill="#00ff00"/>
<rect x="709" y="1453" width="1" height="11" fill="#fff"/>
<rect x="707" y="1457" width="5" height="3" fill="#00ff00"/>
<rect x="717" y="1471" width="1" height="22" fill="#fff"/>
<rect x="715" y="1471" width="5" height="7" fill="#ff0000"/>
<rect x="725" y="1460" width="1" height="26" fill="#fff"/>
<rect x="723" y="1481" width="5" height="4" fill="#ff0000"/>
<rect x="733" y="1476" width="1" height="14" fill="#fff"/>
<rect x="731" y="1478" width="5" height="10" fill="#00ff00"/>
<rect x="741" y="1459" width="1" height="21" fill="#fff"/>
<rect x="739" y="1461" width="5" height="15" fill="#00ff00"/>
<rect x="749" y="1433" width="1" height="15" fill="#fff"/>
<rect x="747" y="1442" width="5" height="4" fill="#00ff00"/>
<rect x="757" y="1417" width="1" height="17" fill="#fff"/>
<rect x="755" y="1421" width="5" height="11" fill="#00ff00"/>
<rect x="765" y="1411" width="1" height="17" fill="#fff"/>
<rect x="763" y="1418" width="5" height="6" fill="#ff0000"/>
<rect x="773" y="1408" width="1" height="17" fill="#fff"/>
<rect x="771" y="1413" width="5" height="9" fill="#00ff00"/>
<rect x="781" y="1391" width="1" height="28" fill="#fff"/>
<rect x="779" y="1395" width="5" height="20" fill="#00ff00"/>
<rect x="789" y="1382" width="1" height="13" fill="#fff"/>
<rect x="787" y="1389" width="5" height="2" fill="#00ff00"/>
<rect x="797" y="1390" width="1" height="22" fill="#fff"/>
<rect x="795" y="1395" width="5" height="13" fill="#ff0000"/>
<rect x="805" y="1395" width="1" height="12" fill="#fff"/>
<rect x="803" y="1398" width="5" height="9" fill="#ff0000"/>
<rect x="813" y="1390" width="1" height="14" fill="#fff"/>
<rect x="811" y="1395" width="5" height="8" fill="#00ff00"/>
<rect x="821" y="1380" width="1" height="18" fill="#fff"/>
<rect x="819" y="1388" width="5" height="8" fill="#00ff00"/>
<rect x="829" y="1378" width="1" height="22" fill="#fff"/>
<rect x="827" y="1388" width="5" height="6" fill="#00ff00"/>
<rect x="837" y="1364" width="1" height="47" fill="#fff"/>
<rect x="835" y="1370" width="5" height="36" fill="#ff0000"/>
<rect x="845" y="1375" width="1" height="16" fill="#fff"/>
<rect x="843" y="1380" width="5" height="10" fill="#00ff00"/>
<rect x="853" y="1373" width="1" height="13" fill="#fff"/>
<rect x="851" y="1376" width="5" height="3" fill="#00ff00"/>
<rect x="861" y="1378" width="1" height="11" fill="#fff"/>
<rect x="859" y="1381" width="5" height="3" fill="#ff0000"/>
<rect x="869" y="1397" width="1" height="27" fill="#fff"/>
<rect x="867" y="1397" width="5" height="23" fill="#ff0000"/>
<rect x="877" y="1415" width="1" height="21" fill="#fff"/>
<rect x="875" y="1425" width="5" height="6" fill="#00ff00"/>
<rect x="885" y="1403" width="1" height="39" fill="#fff"/>
<rect x="883" y="1418" width="5" height="22" fill="#ff0000"/>
<rect x="893" y="1415" width="1" height="17" fill="#fff"/>
<rect x="891" y="1416" width="5" height="16" fill="#00ff00"/>
<rect x="901" y="1425" width="1" height="23" fill="#fff"/>
<rect x="899" y="1427" width="5" height="2" fill="#00ff00"/>
<rect x="909" y="1425" width="1" height="24" fill="#fff"/>
<rect x="907" y="1426" width="5" height="20" fill="#ff0000"/>
<rect x="917" y="1411" width="1" height="40" fill="#fff"/>
<rect x="915" y="1434" width="5" height="11" fill="#ff0000"/>
<rect x="925" y="1440" width="1" height="19" fill="#fff"/>
<rect x="923" y="1447" width="5" height="9" fill="#00ff00"/>
<rect x="933" y="1432" width="1" height="22" fill="#fff"/>
<rect x="931" y="1432" width="5" height="19" fill="#00ff00"/>
<rect x="941" y="1438" width="1" height="28" fill="#fff"/>
<rect x="939" y="1438" width="5" height="25" fill="#ff0000"/>
<rect x="949" y="1455" width="1" height="27" fill="#fff"/>
<rect x="947" y="1464" width="5" height="18" fill="#ff0000"/>
<rect x="957" y="1471" width="1" height="34" fill="#fff"/>
<rect x="955" y="1474" width="5" height="27" fill="#ff0000"/>
<rect x="965" y="1494" width="1" height="27" fill="#fff"/>
<rect x="963" y="1501" width="5" height="15" fill="#00ff00"/>
<rect x="973" y="1479" width="1" height="28" fill="#fff"/>
<rect x="971" y="1484" width="5" height="12" fill="#00ff00"/>
<rect x="981" y="1473" width="1" height="21" fill="#fff"/>
<rect x="979" y="1475" width="5" height="17" fill="#ff0000"/>
<rect x="989" y="1459" width="1" height="28" fill="#fff"/>
<rect x="987" y="1463" width="5" height="24" fill="#00ff00"/>
<rect x="997" y="1450" width="1" height="48" fill="#fff"/>
<rect x="995" y="1452" width="5" height="46" fill="#ff0000"/>
<rect x="1005" y="1473" width="1" height="36" fill="#fff"/>
<rect x="1003" y="1480" width="5" height="11" fill="#00ff00"/>
<rect x="1013" y="1461" width="1" height="15" fill="#fff"/>
<rect x="1011" y="1464" width="5" height="6" fill="#00ff00"/>
<rect x="1021" y="1426" width="1" height="40" fill="#fff"/>
<rect x="1019" y="1428" width="5" height="38" fill="#00ff00"/>
<rect x="1029" y="1414" width="1" height="17" fill="#fff"/>
<rect x="1027" y="1418" width="5" height="9" fill="#00ff00"/>
<rect x="1037" y="1407" width="1" height="16" fill="#fff"/>
<rect x="1035" y="1417" width="5" height="6" fill="#ff0000"/>
<rect x="1045" y="1403" width="1" height="24" fill="#fff"/>
<rect x="1043" y="1409" width="5" height="9" fill="#ff0000"/>
<rect x="1053" y="1418" width="1" height="12" fill="#fff"/>
<rect x="1051" y="1421" width="5" height="8" fill="#ff0000"/>
<rect x="1061" y="1432" width="1" height="28" fill="#fff"/>
<rect x="1059" y="1432" width="5" height="15" fill="#ff0000"/>
<rect x="1069" y="1451" width="1" height="16" fill="#fff"/>
<rect x="1067" y="1454" width="5" height="11" fill="#00ff00"/>
<rect x="1077" y="1442" width="1" height="15" fill="#fff"/>
<rect x="1075" y="1451" width="5" height="4" fill="#00ff00"/>
<rect x="1085" y="1432" width="1" height="14" fill="#fff"/>
<rect x="1083" y="1434" width="5" height="4" fill="#00ff00"/>
<rect x="1093" y="1434" width="1" height="18" fill="#fff"/>
<rect x="1091" y="1442" width="5" height="7" fill="#ff0000"/>
<rect x="1101" y="1438" width="1" height="16" fill="#fff"/>
<rect x="1099" y="1445" width="5" height="4" fill="#00ff00"/>
<rect x="1109" y="1420" width="1" height="20" fill="#fff"/>
<rect x="1107" y="1424" width="5" height="10" fill="#00ff00"/>
<rect x="1117" y="1428" width="1" height="30" fill="#fff"/>
<rect x="1115" y="1428" width="5" height="28" fill="#ff0000"/>
<rect x="1125" y="1446" width="1" height="14" fill="#fff"/>
<rect x="1123" y="1453" width="5" height="6" fill="#00ff00"/>
<rect x="1133" y="1455" width="1" height="20" fill="#fff"/>
<rect x="1131" y="1458" width="5" height="1" fill="#ff0000"/>
<rect x="1141" y="1449" width="1" height="35" fill="#fff"/>
<rect x="1139" y="1453" width="5" height="30" fill="#ff0000"/>
<rect x="1149" y="1497" width="1" height="28" fill="#fff"/>
<rect x="1147" y="1498" width="5" height="26" fill="#ff0000"/>
<rect x="1157" y="1508" width="1" height="24" fill="#fff"/>
<rect x="1155" y="1517" width="5" height="13" fill="#ff0000"/>
<rect x="1165" y="1519" width="1" height="21" fill="#fff"/>
<rect x="1163" y="1519" width="5" height="16" fill="#00ff00"/>
<rect x="1173" y="1533" width="1" height="28" fill="#fff"/>
<rect x="1171" y="1533" width="5" height="24" fill="#ff0000"/>
<rect x="1181" y="1545" width="1" height="35" fill="#fff"/>
<rect x="1179" y="1550" width="5" height="6" fill="#ff0000"/>
<rect x="1189" y="1531" width="1" height="31" fill="#fff"/>
<rect x="1187" y="1541" width="5" height="18" fill="#00ff00"/>
<rect x="1197" y="1522" width="1" height="34" fill="#fff"/>
<rect x="1195" y="1524" width="5" height="24" fill="#ff0000"/>
<rect x="1205" y="1540" width="1" height="24" fill="#fff"/>
<rect x="1203" y="1547" width="5" height="3" fill="#00ff00"/>
<rect x="1213" y="1551" width="1" height="38" fill="#fff"/>
<rect x="1211" y="1558" width="5" height="24" fill="#ff0000"/>
<rect x="1221" y="1558" width="1" height="29" fill="#fff"/>
<rect x="1219" y="1561" width="5" height="18" fill="#00ff00"/>
<rect x="1229" y="1559" width="1" height="25" fill="#fff"/>
<rect x="1227" y="1564" width="5" height="1" fill="#ff0000"/>
<rect x="1237" y="1527" width="1" height="60" fill="#fff"/>
<rect x="1235" y="1536" width="5" height="43" fill="#00ff00"/>
<rect x="1245" y="1517" width="1" height="34" fill="#fff"/>
<rect x="1243" y="1520" width="5" height="28" fill="#00ff00"/>
<rect x="1253" y="1492" width="1" height="27" fill="#fff"/>
<rect x="1251" y="1507" width="5" height="12" fill="#00ff00"/>
<rect x="1261" y="1496" width="1" height="20" fill="#fff"/>
<rect x="1259" y="1497" width="5" height="7" fill="#00ff00"/>
<rect x="1269" y="1492" width="1" height="35" fill="#fff"/>
<rect x="1267" y="1494" width="5" height="19" fill="#ff0000"/>
<rect x="1277" y="1497" width="1" height="38" fill="#fff"/>
<rect x="1275" y="1506" width="5" height="20" fill="#ff0000"/>
<rect x="1285" y="1493" width="1" height="24" fill="#fff"/>
<rect x="1283" y="1499" width="5" height="18" fill="#00ff00"/>
<rect x="1293" y="1487" width="1" height="33" fill="#fff"/>
<rect x="1291" y="1499" width="5" height="17" fill="#00ff00"/>
<rect x="1301" y="1504" width="1" height="35" fill="#fff"/>
<rect x="1299" y="1508" width="5" height="25" fill="#ff0000"/>
<rect x="1309" y="1518" width="1" height="41" fill="#fff"/>
<rect x="1307" y="1528" width="5" height="26" fill="#ff0000"/>
<rect x="1317" y="1554" width="1" height="31" fill="#fff"/>
<rect x="1315" y="1555" width="5" height="30" fill="#ff0000"/>
<rect x="1325" y="1566" width="1" height="39" fill="#fff"/>
<rect x="1323" y="1588" width="5" height="5" fill="#00ff00"/>
<rect x="1333" y="1564" width="1" height="23" fill="#fff"/>
<rect x="1331" y="1570" width="5" height="8" fill="#00ff00"/>
<rect x="1341" y="1579" width="1" height="30" fill="#fff"/>
<rect x="1339" y="1579" width="5" height="27" fill="#ff0000"/>
<rect x="1349" y="1607" width="1" height="33" fill="#fff"/>
<rect x="1347" y="1611" width="5" height="23" fill="#ff0000"/>
<rect x="1357" y="1622" width="1" height="31" fill="#fff"/>
<rect x="1355" y="1624" width="5" height="22" fill="#ff0000"/>
<rect x="1365" y="1610" width="1" height="27" fill="#fff"/>
<rect x="1363" y="1616" width="5" height="17" fill="#00ff00"/>
<rect x="1381" y="1600" width="1" height="25" fill="#fff"/>
<rect x="1379" y="1601" width="5" height="14" fill="#00ff00"/>
<rect x="1397" y="1572" width="1" height="28" fill="#fff"/>
<rect x="1395" y="1576" width="5" height="22" fill="#00ff00"/>
<rect x="1413" y="1529" width="1" height="31" fill="#fff"/>
<rect x="1411" y="1530" width="5" height="30" fill="#00ff00"/>
<rect x="1429" y="1499" width="1" height="23" fill="#fff"/>
<rect x="1427" y="1507" width="5" height="15" fill="#00ff00"/>
<rect x="1445" y="1499" width="1" height="15" fill="#fff"/>
<rect x="1443" y="1503" width="5" height="2" fill="#00ff00"/>
<rect x="1453" y="1491" width="1" height="19" fill="#fff"/>
<rect x="1451" y="1496" width="5" height="8" fill="#00ff00"/>
<rect x="1461" y="1488" width="1" height="19" fill="#fff"/>
<rect x="1459" y="1492" width="5" height="2" fill="#ff0000"/>
<rect x="1469" y="1487" width="1" height="29" fill="#fff"/>
<rect x="1467" y="1488" width="5" height="27" fill="#ff0000"/>
<rect x="1477" y="1473" width="1" height="38" fill="#fff"/>
<rect x="1475" y="1475" width="5" height="30" fill="#00ff00"/>
<rect x="1485" y="1471" width="1" height="17" fill="#fff"/>
<rect x="1483" y="1477" width="5" height="4" fill="#00ff00"/>
<rect x="1493" y="1421" width="1" height="30" fill="#fff"/>
<rect x="1491" y="1429" width="5" height="22" fill="#00ff00"/>
<rect x="1501" y="1414" width="1" height="16" fill="#fff"/>
<rect x="1499" y="1423" width="5" height="3" fill="#ff0000"/>
<rect x="1509" y="1420" width="1" height="14" fill="#fff"/>
<rect x="1507" y="1422" width="5" height="7" fill="#00ff00"/>
<rect x="1517" y="1415" width="1" height="13" fill="#fff"/>
<rect x="1515" y="1418" width="5" height="4" fill="#00ff00"/>
<rect x="1525" y="1394" width="1" height="28" fill="#fff"/>
<rect x="1523" y="1399" width="5" height="22" fill="#00ff00"/>
<rect x="1533" y="1402" width="1" height="11" fill="#fff"/>
<rect x="1531" y="1404" width="5" height="2" fill="#ff0000"/>
<rect x="1541" y="1387" width="1" height="15" fill="#fff"/>
<rect x="1539" y="1394" width="5" height="3" fill="#00ff00"/>
<rect x="1549" y="1392" width="1" height="5" fill="#fff"/>
<rect x="1547" y="1393" width="5" height="3" fill="#00ff00"/>
<rect x="1557" y="1392" width="1" height="9" fill="#fff"/>
<rect x="1555" y="1395" width="5" height="4" fill="#ff0000"/>
<rect x="1565" y="1388" width="1" height="16" fill="#fff"/>
<rect x="1563" y="1395" width="5" height="6" fill="#00ff00"/>
<rect x="1573" y="1376" width="1" height="25" fill="#fff"/>
<rect x="1571" y="1385" width="5" height="14" fill="#ff0000"/>
<rect x="1581" y="1387" width="1" height="19" fill="#fff"/>
<rect x="1579" y="1388" width="5" height="8" fill="#00ff00"/>
<rect x="1589" y="1370" width="1" height="26" fill="#fff"/>
<rect x="1587" y="1372" width="5" height="22" fill="#00ff00"/>
<rect x="1597" y="1385" width="1" height="16" fill="#fff"/>
<rect x="1595" y="1387" width="5" height="4" fill="#00ff00"/>
<rect x="1605" y="1382" width="1" height="16" fill="#fff"/>
<rect x="1603" y="1388" width="5" height="7" fill="#00ff00"/>
<rect x="1613" y="1375" width="1" height="26" fill="#fff"/>
<rect x="1611" y="1377" width="5" height="22" fill="#ff0000"/>
<rect x="1621" y="1375" width="1" height="15" fill="#fff"/>
<rect x="1619" y="1378" width="5" height="10" fill="#00ff00"/>
<rect x="1629" y="1364" width="1" height="21" fill="#fff"/>
<rect x="1627" y="1367" width="5" height="17" fill="#00ff00"/>
<rect x="1637" y="1356" width="1" height="18" fill="#fff"/>
<rect x="1635" y="1357" width="5" height="17" fill="#00ff00"/>
<rect x="1645" y="1344" width="1" height="22" fill="#fff"/>
<rect x="1643" y="1344" width="5" height="16" fill="#00ff00"/>
<rect x="1653" y="1307" width="1" height="39" fill="#fff"/>
<rect x="1651" y="1308" width="5" height="36" fill="#00ff00"/>
<rect x="1661" y="1290" width="1" height="27" fill="#fff"/>
<rect x="1659" y="1300" width="5" height="2" fill="#ff0000"/>
<rect x="1669" y="1298" width="1" height="13" fill="#fff"/>
<rect x="1667" y="1301" width="5" height="4" fill="#00ff00"/>
<rect x="1677" y="1284" width="1" height="15" fill="#fff"/>
<rect x="1675" y="1289" width="5" height="10" fill="#00ff00"/>
<rect x="1685" y="1273" width="1" height="15" fill="#fff"/>
<rect x="1683" y="1273" width="5" height="15" fill="#00ff00"/>
<rect x="1693" y="1268" width="1" height="47" fill="#fff"/>
<rect x="1691" y="1275" width="5" height="39" fill="#ff0000"/>
<rect x="1701" y="1285" width="1" height="24" fill="#fff"/>
<rect x="1699" y="1286" width="5" height="13" fill="#00ff00"/>
<rect x="1709" y="1271" width="1" height="21" fill="#fff"/>
<rect x="1707" y="1281" width="5" height="2" fill="#00ff00"/>
<rect x="1717" y="1264" width="1" height="16" fill="#fff"/>
<rect x="1715" y="1270" width="5" height="10" fill="#00ff00"/>
<rect x="1725" y="1264" width="1" height="10" fill="#fff"/>
<rect x="1723" y="1266" width="5" height="5" fill="#00ff00"/>
<rect x="1733" y="1259" width="1" height="8" fill="#fff"/>
<rect x="1731" y="1263" width="5" height="3" fill="#ff0000"/>
<rect x="1741" y="1262" width="1" height="22" fill="#fff"/>
<rect x="1739" y="1265" width="5" height="9" fill="#ff0000"/>
<rect x="1749" y="1281" width="1" height="19" fill="#fff"/>
<rect x="1747" y="1287" width="5" height="2" fill="#ff0000"/>
<rect x="1757" y="1296" width="1" height="18" fill="#fff"/>
<rect x="1755" y="1298" width="5" height="13" fill="#ff0000"/>
<rect x="1765" y="1297" width="1" height="23" fill="#fff"/>
<rect x="1763" y="1314" width="5" height="6" fill="#ff0000"/>
<rect x="1773" y="1300" width="1" height="24" fill="#fff"/>
<rect x="1771" y="1314" width="5" height="5" fill="#00ff00"/>
<rect x="1781" y="1276" width="1" height="37" fill="#fff"/>
<rect x="1779" y="1276" width="5" height="35" fill="#00ff00"/>
<rect x="1789" y="1275" width="1" height="21" fill="#fff"/>
<rect x="1787" y="1280" width="5" height="9" fill="#00ff00"/>
<rect x="1797" y="1261" width="1" height="20" fill="#fff"/>
<rect x="1795" y="1265" width="5" height="14" fill="#00ff00"/>
<rect x="1805" y="1256" width="1" height="35" fill="#fff"/>
<rect x="1803" y="1260" width="5" height="8" fill="#ff0000"/>
<rect x="1813" y="1254" width="1" height="20" fill="#fff"/>
<rect x="1811" y="1260" width="5" height="6" fill="#ff0000"/>
<rect x="1821" y="1265" width="1" height="21" fill="#fff"/>
<rect x="1819" y="1271" width="5" height="5" fill="#ff0000"/>
<rect x="1829" y="1287" width="1" height="18" fill="#fff"/>
<rect x="1827" y="1290" width="5" height="1" fill="#00ff00"/>
<rect x="1837" y="1263" width="1" height="27" fill="#fff"/>
<rect x="1835" y="1266" width="5" height="13" fill="#00ff00"/>
<rect x="1845" y="1231" width="1" height="33" fill="#fff"/>
<rect x="1843" y="1233" width="5" height="25" fill="#00ff00"/>
<rect x="1853" y="1216" width="1" height="15" fill="#fff"/>
<rect x="1851" y="1225" width="5" height="3" fill="#ff0000"/>
<rect x="1861" y="1217" width="1" height="14" fill="#fff"/>
<rect x="1859" y="1218" width="5" height="6" fill="#00ff00"/>
<rect x="1869" y="1196" width="1" height="23" fill="#fff"/>
<rect x="1867" y="1205" width="5" height="12" fill="#ff0000"/>
<rect x="1877" y="1199" width="1" height="18" fill="#fff"/>
<rect x="1875" y="1202" width="5" height="5" fill="#00ff00"/>
<rect x="1885" y="1194" width="1" height="16" fill="#fff"/>
<rect x="1883" y="1203" width="5" height="3" fill="#00ff00"/>
<rect x="1893" y="1182" width="1" height="24" fill="#fff"/>
<rect x="1891" y="1182" width="5" height="21" fill="#00ff00"/>
<rect x="1901" y="1181" width="1" height="9" fill="#fff"/>
<rect x="1899" y="1183" width="5" height="2" fill="#ff0000"/>
<rect x="1909" y="1194" width="1" height="37" fill="#fff"/>
<rect x="1907" y="1199" width="5" height="31" fill="#ff0000"/>
<rect x="1917" y="1194" width="1" height="32" fill="#fff"/>
<rect x="1915" y="1195" width="5" height="26" fill="#00ff00"/>
<rect x="1925" y="1155" width="1" height="40" fill="#fff"/>
<rect x="1923" y="1165" width="5" height="25" fill="#00ff00"/>
<rect x="1933" y="1166" width="1" height="23" fill="#fff"/>
<rect x="1931" y="1166" width="5" height="9" fill="#ff0000"/>
<rect x="1941" y="1165" width="1" height="14" fill="#fff"/>
<rect x="1939" y="1167" width="5" height="4" fill="#00ff00"/>
<rect x="1949" y="1141" width="1" height="19" fill="#fff"/>
<rect x="1947" y="1144" width="5" height="14" fill="#00ff00"/>
<rect x="1957" y="1141" width="1" height="9" fill="#fff"/>
<rect x="1955" y="1142" width="5" height="3" fill="#00ff00"/>
<rect x="1965" y="1124" width="1" height="18" fill="#fff"/>
<rect x="1963" y="1126" width="5" height="14" fill="#00ff00"/>
<rect x="1973" y="1114" width="1" height="19" fill="#fff"/>
<rect x="1971" y="1126" width="5" height="4" fill="#ff0000"/>
<rect x="1981" y="1158" width="1" height="30" fill="#fff"/>
<rect x="1979" y="1159" width="5" height="10" fill="#ff0000"/>
<rect x="1989" y="1140" width="1" height="27" fill="#fff"/>
<rect x="1987" y="1141" width="5" height="15" fill="#00ff00"/>
<rect x="1997" y="1123" width="1" height="20" fill="#fff"/>
<rect x="1995" y="1124" width="5" height="16" fill="#00ff00"/>
<rect x="2005" y="1119" width="1" height="23" fill="#fff"/>
<rect x="2003" y="1123" width="5" height="16" fill="#ff0000"/>
<rect x="2013" y="1145" width="1" height="23" fill="#fff"/>
<rect x="2011" y="1147" width="5" height="9" fill="#ff0000"/>
<rect x="2021" y="1151" width="1" height="22" fill="#fff"/>
<rect x="2019" y="1152" width="5" height="11" fill="#00ff00"/>
<rect x="2029" y="1087" width="1" height="33" fill="#fff"/>
<rect x="2027" y="1092" width="5" height="28" fill="#00ff00"/>
<rect x="2037" y="1078" width="1" height="18" fill="#fff"/>
<rect x="2035" y="1084" width="5" height="8" fill="#ff0000"/>
<rect x="2045" y="1085" width="1" height="18" fill="#fff"/>
<rect x="2043" y="1088" width="5" height="15" fill="#ff0000"/>
<rect x="2053" y="1095" width="1" height="15" fill="#fff"/>
<rect x="2051" y="1097" width="5" height="3" fill="#00ff00"/>
<rect x="2061" y="1097" width="1" height="12" fill="#fff"/>
<rect x="2059" y="1101" width="5" height="3" fill="#00ff00"/>
<rect x="2069" y="1081" width="1" height="26" fill="#fff"/>
<rect x="2067" y="1086" width="5" height="8" fill="#00ff00"/>
<rect x="2077" y="1061" width="1" height="27" fill="#fff"/>
<rect x="2075" y="1063" width="5" height="23" fill="#00ff00"/>
<rect x="2085" y="1056" width="1" height="14" fill="#fff"/>
<rect x="2083" y="1066" width="5" height="2" fill="#ff0000"/>
<rect x="2093" y="1076" width="1" height="34" fill="#fff"/>
<rect x="2091" y="1078" width="5" height="19" fill="#ff0000"/>
<rect x="2101" y="1068" width="1" height="22" fill="#fff"/>
<rect x="2099" y="1080" width="5" height="2" fill="#ff0000"/>
<rect x="2109" y="1047" width="1" height="22" fill="#fff"/>
<rect x="2107" y="1051" width="5" height="16" fill="#00ff00"/>
<rect x="2117" y="1033" width="1" height="42" fill="#fff"/>
<rect x="2115" y="1047" width="5" height="25" fill="#ff0000"/>
<rect x="2125" y="1070" width="1" height="20" fill="#fff"/>
<rect x="2123" y="1074" width="5" height="4" fill="#00ff00"/>
<rect x="2141" y="1039" width="1" height="38" fill="#fff"/>
<rect x="2139" y="1041" width="5" height="25" fill="#00ff00"/>
<rect x="2157" y="1039" width="1" height="17" fill="#fff"/>
<rect x="2155" y="1042" width="5" height="6" fill="#ff0000"/>
<rect x="2173" y="1040" width="1" height="32" fill="#fff"/>
<rect x="2171" y="1041" width="5" height="15" fill="#ff0000"/>
<rect x="2189" y="1063" width="1" height="20" fill="#fff"/>
<rect x="2187" y="1071" width="5" height="4" fill="#ff0000"/>
<rect x="2205" y="1041" width="1" height="18" fill="#fff"/>
<rect x="2203" y="1053" width="5" height="4" fill="#ff0000"/>
<rect x="2221" y="1038" width="1" height="29" fill="#fff"/>
<rect x="2219" y="1039" width="5" height="24" fill="#00ff00"/>
<rect x="2237" y="1012" width="1" height="32" fill="#fff"/>
<rect x="2235" y="1013" width="5" height="26" fill="#00ff00"/>
<rect x="2253" y="992" width="1" height="13" fill="#fff"/>
<rect x="2251" y="997" width="5" height="7" fill="#ff0000"/>
<rect x="2269" y="1001" width="1" height="10" fill="#fff"/>
<rect x="2267" y="1003" width="5" height="6" fill="#ff0000"/>
<rect x="2285" y="1011" width="1" height="8" fill="#fff"/>
<rect x="2283" y="1016" width="5" height="2" fill="#ff0000"/>
</g>
<path transform="translate(182.1,1671.6)" d="M0,-5.1 L1.6,-3.4 L1.6,-1.6 L3.4,-1.6 L5.1,0 L3.4,1.6 L1.6,1.6 L1.6,3.4 L0,5.1 L-1.6,3.4 L-1.6,1.6 L-3.4,1.6 L-5.1,0 L-3.4,-1.6 L-1.6,-1.6 L-1.6,-3.4 Z" fill="#ff0000"/>
<path transform="translate(198.0,1691.7)" d="M0,-5.1 L1.6,-3.4 L1.6,-1.6 L3.4,-1.6 L5.1,0 L3.4,1.6 L1.6,1.6 L1.6,3.4 L0,5.1 L-1.6,3.4 L-1.6,1.6 L-3.4,1.6 L-5.1,0 L-3.4,-1.6 L-1.6,-1.6 L-1.6,-3.4 Z" fill="#3cb371"/>
<ellipse cx="206.1" cy="1622.3" rx="6" ry="5.6" fill="#c0c0c0"/>
<ellipse cx="222.2" cy="1635.4" rx="4.1" ry="3.7" fill="#3cb371"/>
<ellipse cx="254.1" cy="1620.8" rx="6" ry="5.6" fill="#f4a460"/>
<ellipse cx="254.1" cy="1627.4" rx="6" ry="5.6" fill="#ff0000"/>
<ellipse cx="270.0" cy="1610.4" rx="6" ry="5.6" fill="#ff0000"/>
<ellipse cx="366.2" cy="1600.4" rx="4.1" ry="3.7" fill="#3cb371"/>
<ellipse cx="486.2" cy="1590.6" rx="4.1" ry="3.7" fill="#3cb371"/>
<ellipse cx="518.2" cy="1573.2" rx="3.2" ry="2.7" fill="#ffffff"/>
<ellipse cx="542.1" cy="1533.4" rx="6" ry="5.6" fill="#c0c0c0"/>
<ellipse cx="550.2" cy="1535.4" rx="3.2" ry="2.7" fill="#ffffff"/>
<ellipse cx="566.1" cy="1535.4" rx="3.2" ry="2.7" fill="#ffffff"/>
<ellipse cx="582.1" cy="1522.4" rx="3.2" ry="2.7" fill="#ffffff"/>
<ellipse cx="622.2" cy="1450.4" rx="3.2" ry="2.7" fill="#ffffff"/>
<ellipse cx="630.6" cy="1469.4" rx="4.1" ry="3.7" fill="#3cb371"/>
<ellipse cx="654.1" cy="1489.5" rx="4.1" ry="3.7" fill="#0000ff"/>
<path transform="translate(694.2,1479.9)" d="M0,-5.1 L1.6,-3.4 L1.6,-1.6 L3.4,-1.6 L5.1,0 L3.4,1.6 L1.6,1.6 L1.6,3.4 L0,5.1 L-1.6,3.4 L-1.6,1.6 L-3.4,1.6 L-5.1,0 L-3.4,-1.6 L-1.6,-1.6 L-1.6,-3.4 Z" fill="#3cb371"/>
<ellipse cx="710.1" cy="1439.5" rx="4.1" ry="3.7" fill="#0000ff"/>
<ellipse cx="718.1" cy="1456.5" rx="4.1" ry="3.7" fill="#3cb371"/>
<path transform="translate(742.0,1487.9)" d="M0,-5.1 L1.6,-3.4 L1.6,-1.6 L3.4,-1.6 L5.1,0 L3.4,1.6 L1.6,1.6 L1.6,3.4 L0,5.1 L-1.6,3.4 L-1.6,1.6 L-3.4,1.6 L-5.1,0 L-3.4,-1.6 L-1.6,-1.6 L-1.6,-3.4 Z" fill="#3cb371"/>
<ellipse cx="766.2" cy="1405.5" rx="3.2" ry="2.7" fill="#ffffff"/>
<path transform="translate(822.1,1404.9)" d="M0,-5.1 L1.6,-3.4 L1.6,-1.6 L3.4,-1.6 L5.1,0 L3.4,1.6 L1.6,1.6 L1.6,3.4 L0,5.1 L-1.6,3.4 L-1.6,1.6 L-3.4,1.6 L-5.1,0 L-3.4,-1.6 L-1.6,-1.6 L-1.6,-3.4 Z" fill="#3cb371"/>
<ellipse cx="790.2" cy="1376.3" rx="3.2" ry="2.7" fill="#ffffff"/>
<ellipse cx="798.4" cy="1376.3" rx="4.1" ry="3.7" fill="#3cb371"/>
<ellipse cx="814.5" cy="1378.5" rx="4.1" ry="3.7" fill="#0000ff"/>
<ellipse cx="830.6" cy="1366.9" rx="4.1" ry="3.7" fill="#0000ff"/>
<ellipse cx="830.2" cy="1374.6" rx="6" ry="5.6" fill="#ff0000"/>
<ellipse cx="838.4" cy="1356.0" rx="6" ry="5.6" fill="#f4a460"/>
<ellipse cx="838.4" cy="1360.2" rx="6" ry="5.6" fill="#ff0000"/>
<path transform="translate(950.2,1440.6)" d="M0,-5.1 L1.6,-3.4 L1.6,-1.6 L3.4,-1.6 L5.1,0 L3.4,1.6 L1.6,1.6 L1.6,3.4 L0,5.1 L-1.6,3.4 L-1.6,1.6 L-3.4,1.6 L-5.1,0 L-3.4,-1.6 L-1.6,-1.6 L-1.6,-3.4 Z" fill="#ff0000"/>
<ellipse cx="918.4" cy="1467.4" rx="6" ry="5.6" fill="#00ff00"/>
<ellipse cx="926.4" cy="1464.7" rx="3.2" ry="2.7" fill="#ffffff"/>
<ellipse cx="934.5" cy="1467.4" rx="4.1" ry="3.7" fill="#3cb371"/>
<ellipse cx="958.4" cy="1520.6" rx="3.2" ry="2.7" fill="#909090"/>
<ellipse cx="966.4" cy="1532.1" rx="6" ry="5.6" fill="#c0c0c0"/>
<ellipse cx="966.4" cy="1526.6" rx="3.2" ry="2.7" fill="#ffffff"/>
<path transform="translate(1022.2,1474.9)" d="M0,-5.1 L1.6,-3.4 L1.6,-1.6 L3.4,-1.6 L5.1,0 L3.4,1.6 L1.6,1.6 L1.6,3.4 L0,5.1 L-1.6,3.4 L-1.6,1.6 L-3.4,1.6 L-5.1,0 L-3.4,-1.6 L-1.6,-1.6 L-1.6,-3.4 Z" fill="#3cb371"/>
<ellipse cx="1038.1" cy="1402.4" rx="6" ry="5.6" fill="#ff0000"/>
<path transform="translate(1062.2,1416.8)" d="M0,-5.1 L1.6,-3.4 L1.6,-1.6 L3.4,-1.6 L5.1,0 L3.4,1.6 L1.6,1.6 L1.6,3.4 L0,5.1 L-1.6,3.4 L-1.6,1.6 L-3.4,1.6 L-5.1,0 L-3.4,-1.6 L-1.6,-1.6 L-1.6,-3.4 Z" fill="#ff0000"/>
<ellipse cx="1158.5" cy="1549.5" rx="3.2" ry="2.7" fill="#909090"/>
<ellipse cx="1166.5" cy="1545.6" rx="3.2" ry="2.7" fill="#ffffff"/>
<ellipse cx="1166.5" cy="1557.5" rx="6" ry="5.6" fill="#00ff00"/>
<ellipse cx="1174.2" cy="1572.7" rx="6" ry="5.6" fill="#c0c0c0"/>
<circle cx="1190.5" cy="1574.3" r="6" fill="#c0c0c0"/><circle cx="1190.5" cy="1574.3" r="4.6" fill="#d2b48c"/>
<ellipse cx="1182.4" cy="1582.5" rx="3.2" ry="2.7" fill="#ffffff"/>
<circle cx="1182.4" cy="1593.5" r="6" fill="#00ff00"/><ellipse cx="1182.4" cy="1593.5" rx="3.2" ry="2.7" fill="#909090"/>
<ellipse cx="1206.5" cy="1570.5" rx="3.2" ry="2.7" fill="#ffffff"/>
<ellipse cx="1238.5" cy="1603.5" rx="4.1" ry="3.7" fill="#0000ff"/>
<path transform="translate(1270.1,1473.4)" d="M0,-5.1 L1.6,-3.4 L1.6,-1.6 L3.4,-1.6 L5.1,0 L3.4,1.6 L1.6,1.6 L1.6,3.4 L0,5.1 L-1.6,3.4 L-1.6,1.6 L-3.4,1.6 L-5.1,0 L-3.4,-1.6 L-1.6,-1.6 L-1.6,-3.4 Z" fill="#ff0000"/>
<circle cx="1366.4" cy="1650.5" r="6" fill="#c0c0c0"/><circle cx="1366.4" cy="1650.5" r="4.6" fill="#d2b48c"/>
<ellipse cx="1358.4" cy="1673.5" rx="3.2" ry="2.7" fill="#909090"/>
<ellipse cx="1398.4" cy="1617.5" rx="4.1" ry="3.7" fill="#0000ff"/>
<path transform="translate(1430.2,1531.7)" d="M0,-5.1 L1.6,-3.4 L1.6,-1.6 L3.4,-1.6 L5.1,0 L3.4,1.6 L1.6,1.6 L1.6,3.4 L0,5.1 L-1.6,3.4 L-1.6,1.6 L-3.4,1.6 L-5.1,0 L-3.4,-1.6 L-1.6,-1.6 L-1.6,-3.4 Z" fill="#3cb371"/>
<ellipse cx="1470.0" cy="1474.9" rx="6" ry="5.6" fill="#f4a460"/>
<circle cx="1470.0" cy="1480.4" r="6" fill="#ff0000"/><ellipse cx="1470.0" cy="1480.4" rx="3.2" ry="2.7" fill="#fff"/>
<ellipse cx="1486.5" cy="1464.3" rx="6" ry="5.6" fill="#ff0000"/>
<ellipse cx="1502.6" cy="1407.3" rx="3.2" ry="2.7" fill="#ffffff"/>
<ellipse cx="1502.5" cy="1407.5" rx="3.2" ry="2.7" fill="#ffffff"/>
<ellipse cx="1542.5" cy="1380.5" rx="3.2" ry="2.7" fill="#ffffff"/>
<ellipse cx="1558.4" cy="1385.4" rx="3.2" ry="2.7" fill="#ffffff"/>
<ellipse cx="1574.5" cy="1365.5" rx="6" ry="5.6" fill="#f4a460"/>
<circle cx="1574.5" cy="1369.7" r="6" fill="#ff0000"/><ellipse cx="1574.5" cy="1369.7" rx="3.2" ry="2.7" fill="#fff"/>
<ellipse cx="1598.4" cy="1370.4" rx="4.1" ry="3.7" fill="#0000ff"/>
<ellipse cx="1654.1" cy="1293.3" rx="6" ry="5.6" fill="#c0c0c0"/>
<ellipse cx="1694.5" cy="1253.1" rx="4.1" ry="3.7" fill="#3cb371"/>
<ellipse cx="1694.5" cy="1257.1" rx="6" ry="5.6" fill="#f4a460"/>
<ellipse cx="1694.5" cy="1261.3" rx="6" ry="5.6" fill="#ff0000"/>
<ellipse cx="1774.6" cy="1328.4" rx="6" ry="5.6" fill="#ff0000"/>
<ellipse cx="1774.6" cy="1339.3" rx="6" ry="5.6" fill="#00ff00"/>
<ellipse cx="1814.6" cy="1241.4" rx="4.1" ry="3.7" fill="#3cb371"/>
<ellipse cx="1814.6" cy="1248.5" rx="3.2" ry="2.7" fill="#ffffff"/>
<path transform="translate(1846.2,1271.9)" d="M0,-5.1 L1.6,-3.4 L1.6,-1.6 L3.4,-1.6 L5.1,0 L3.4,1.6 L1.6,1.6 L1.6,3.4 L0,5.1 L-1.6,3.4 L-1.6,1.6 L-3.4,1.6 L-5.1,0 L-3.4,-1.6 L-1.6,-1.6 L-1.6,-3.4 Z" fill="#3cb371"/>
<ellipse cx="1854.2" cy="1205.6" rx="6" ry="5.6" fill="#c0c0c0"/>
<ellipse cx="1854.2" cy="1211.6" rx="3.2" ry="2.7" fill="#ffffff"/>
<ellipse cx="1870.1" cy="1191.3" rx="3.2" ry="2.7" fill="#ffffff"/>
<ellipse cx="1886.6" cy="1189.5" rx="3.2" ry="2.7" fill="#ffffff"/>
<ellipse cx="1910.5" cy="1182.0" rx="4.1" ry="3.7" fill="#3cb371"/>
<ellipse cx="1910.5" cy="1183.1" rx="4.1" ry="3.7" fill="#0000ff"/>
<path transform="translate(1926.4,1201.9)" d="M0,-5.1 L1.6,-3.4 L1.6,-1.6 L3.4,-1.6 L5.1,0 L3.4,1.6 L1.6,1.6 L1.6,3.4 L0,5.1 L-1.6,3.4 L-1.6,1.6 L-3.4,1.6 L-5.1,0 L-3.4,-1.6 L-1.6,-1.6 L-1.6,-3.4 Z" fill="#3cb371"/>
<ellipse cx="1974.5" cy="1108.4" rx="3.2" ry="2.7" fill="#ffffff"/>
<ellipse cx="2038.4" cy="1072.4" rx="3.2" ry="2.7" fill="#ffffff"/>
<ellipse cx="2086.5" cy="1050.5" rx="3.2" ry="2.7" fill="#ffffff"/>
<ellipse cx="2206.5" cy="1035.3" rx="3.2" ry="2.7" fill="#ffffff"/>
<ellipse cx="2254.2" cy="980.6" rx="6" ry="5.6" fill="#c0c0c0"/>
<ellipse cx="2254.2" cy="986.5" rx="3.2" ry="2.7" fill="#ffffff"/>
<g transform="translate(634.6,1715.3) scale(1.214,1)"><text x="0" y="0" font-family="Liberation Sans, Arial, sans-serif" font-size="49" font-weight="bold" font-style="italic" fill="#ffff00" stroke="#ffff00" stroke-width="1.4" stroke-linejoin="round">Psychator</text></g>
<g transform="translate(576.3,1767.3) scale(1.236,1)"><text x="0" y="0" font-family="Liberation Sans, Arial, sans-serif" font-size="30" font-weight="bold" font-style="italic" fill="#ffff00" stroke="#ffff00" stroke-width="0.9" stroke-linejoin="round">S&amp;P 500 Index (Tag)</text></g>
</g>
<g shape-rendering="crispEdges">
<rect x="0" y="283" width="2412" height="1" fill="#e8e8e8"/><rect x="0" y="284" width="2412" height="2" fill="#ffffff"/><rect x="0" y="286" width="2412" height="1" fill="#a0a0a0"/>
<rect x="0" y="604" width="2412" height="1" fill="#e8e8e8"/><rect x="0" y="605" width="2412" height="2" fill="#ffffff"/><rect x="0" y="607" width="2412" height="1" fill="#a0a0a0"/>
<rect x="0" y="947" width="2412" height="1" fill="#e8e8e8"/><rect x="0" y="948" width="2412" height="2" fill="#ffffff"/><rect x="0" y="950" width="2412" height="1" fill="#a0a0a0"/>
<rect x="2412" y="0" width="5" height="1858" fill="#ffffff"/>
<rect x="2417" y="0" width="1" height="1858" fill="#202020"/>
<rect x="2418" y="0" width="3" height="1858" fill="#ababab"/>
<rect x="0" y="1855" width="2412" height="1" fill="#ffffff"/>
<rect x="0" y="1856" width="2412" height="2" fill="#f0f0f0"/>
<rect x="423" y="1856" width="1963" height="2" fill="#cdcdcd"/>
</g>
</svg></body></html>
